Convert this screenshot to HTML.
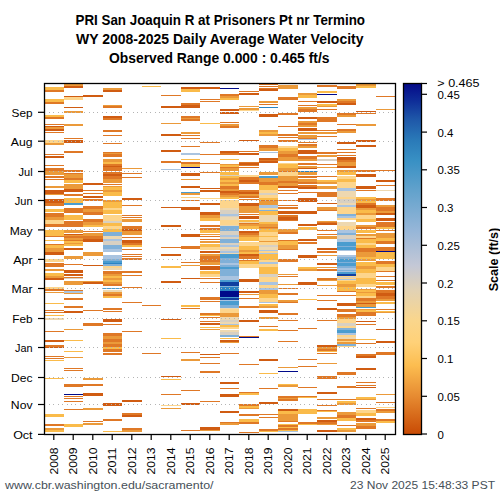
<!DOCTYPE html>
<html><head><meta charset="utf-8"><style>
html,body{margin:0;padding:0;background:#fff;}
body{width:500px;height:500px;overflow:hidden;position:relative;}
svg{position:absolute;left:0;top:0;}
text{font-family:"Liberation Sans",sans-serif;}
</style></head><body>
<svg width="500" height="500" viewBox="0 0 500 500">
<defs><linearGradient id="cb" x1="0" y1="0" x2="0" y2="1"><stop offset="0.000" stop-color="#050a88"/><stop offset="0.048" stop-color="#0e2c98"/><stop offset="0.100" stop-color="#1e56a8"/><stop offset="0.162" stop-color="#2a7ab8"/><stop offset="0.219" stop-color="#3890c4"/><stop offset="0.305" stop-color="#62a2cc"/><stop offset="0.419" stop-color="#96b6d8"/><stop offset="0.519" stop-color="#c4c8d6"/><stop offset="0.590" stop-color="#e2d2b4"/><stop offset="0.675" stop-color="#fad68c"/><stop offset="0.738" stop-color="#ffd178"/><stop offset="0.803" stop-color="#fcbd50"/><stop offset="0.889" stop-color="#e78c32"/><stop offset="1.000" stop-color="#c84a04"/></linearGradient></defs>
<g font-weight="bold" font-size="14.3" fill="#000" lengthAdjust="spacingAndGlyphs">
<text x="75.5" y="25" textLength="289.5" lengthAdjust="spacingAndGlyphs">PRI San Joaquin R at Prisoners Pt nr Termino</text>
<text x="76" y="43.8" textLength="287.5" lengthAdjust="spacingAndGlyphs">WY 2008-2025 Daily Average Water Velocity</text>
<text x="109" y="62.6" textLength="220.5" lengthAdjust="spacingAndGlyphs">Observed Range 0.000 : 0.465 ft/s</text>
</g>
<g shape-rendering="crispEdges">
<rect x="44.0" y="87" width="19.5" height="3" fill="#fabb4a"/><rect x="44.0" y="90" width="19.5" height="2" fill="#df7826"/><rect x="44.0" y="99" width="19.5" height="3" fill="#fabb4a"/><rect x="44.0" y="102" width="19.5" height="2" fill="#df7826"/><rect x="44.0" y="115" width="19.5" height="2" fill="#fabb4a"/><rect x="44.0" y="117" width="19.5" height="2" fill="#df7826"/><rect x="44.0" y="124" width="19.5" height="1" fill="#df7826"/><rect x="44.0" y="126" width="19.5" height="1" fill="#d05c12"/><rect x="44.0" y="127" width="19.5" height="2" fill="#eb9a3a"/><rect x="44.0" y="129" width="19.5" height="2" fill="#d05c12"/><rect x="44.0" y="132" width="19.5" height="1" fill="#df7826"/><rect x="44.0" y="140" width="19.5" height="3" fill="#fdd58c"/><rect x="44.0" y="143" width="19.5" height="2" fill="#eb9a3a"/><rect x="44.0" y="154" width="19.5" height="1" fill="#df7826"/><rect x="44.0" y="156" width="19.5" height="2" fill="#d05c12"/><rect x="44.0" y="165" width="19.5" height="1" fill="#df7826"/><rect x="44.0" y="168" width="19.5" height="3" fill="#df7826"/><rect x="44.0" y="171" width="19.5" height="4" fill="#eb9a3a"/><rect x="44.0" y="176" width="19.5" height="2" fill="#df7826"/><rect x="44.0" y="179" width="19.5" height="1" fill="#df7826"/><rect x="44.0" y="186" width="19.5" height="2" fill="#eb9a3a"/><rect x="44.0" y="190" width="19.5" height="4" fill="#d05c12"/><rect x="44.0" y="194" width="19.5" height="1" fill="#eb9a3a"/><rect x="44.0" y="199" width="19.5" height="4" fill="#d05c12"/><rect x="44.0" y="203" width="19.5" height="3" fill="#df7826"/><rect x="44.0" y="209" width="19.5" height="3" fill="#fabb4a"/><rect x="44.0" y="213" width="19.5" height="4" fill="#df7826"/><rect x="44.0" y="217" width="19.5" height="3" fill="#eb9a3a"/><rect x="44.0" y="220" width="19.5" height="4" fill="#fdd58c"/><rect x="44.0" y="224" width="19.5" height="3" fill="#df7826"/><rect x="44.0" y="230" width="19.5" height="6" fill="#fabb4a"/><rect x="44.0" y="236" width="19.5" height="1" fill="#df7826"/><rect x="44.0" y="240" width="19.5" height="1" fill="#fabb4a"/><rect x="44.0" y="244" width="19.5" height="1" fill="#df7826"/><rect x="44.0" y="245" width="19.5" height="3" fill="#fabb4a"/><rect x="44.0" y="248" width="19.5" height="3" fill="#eb9a3a"/><rect x="44.0" y="251" width="19.5" height="1" fill="#eb9a3a"/><rect x="44.0" y="252" width="19.5" height="3" fill="#d05c12"/><rect x="44.0" y="259" width="19.5" height="3" fill="#fdd58c"/><rect x="44.0" y="263" width="19.5" height="4" fill="#df7826"/><rect x="44.0" y="269" width="19.5" height="2" fill="#eb9a3a"/><rect x="44.0" y="273" width="19.5" height="3" fill="#fabb4a"/><rect x="44.0" y="276" width="19.5" height="2" fill="#eb9a3a"/><rect x="44.0" y="278" width="19.5" height="2" fill="#d05c12"/><rect x="44.0" y="287" width="19.5" height="2" fill="#fdd58c"/><rect x="44.0" y="289" width="19.5" height="2" fill="#df7826"/><rect x="44.0" y="292" width="19.5" height="1" fill="#eb9a3a"/><rect x="44.0" y="303" width="19.5" height="1" fill="#fabb4a"/><rect x="44.0" y="310" width="19.5" height="1" fill="#df7826"/><rect x="44.0" y="312" width="19.5" height="1" fill="#df7826"/><rect x="44.0" y="315" width="19.5" height="1" fill="#fabb4a"/><rect x="44.0" y="318" width="19.5" height="2" fill="#eed8b0"/><rect x="44.0" y="331" width="19.5" height="1" fill="#df7826"/><rect x="44.0" y="340" width="19.5" height="2" fill="#d05c12"/><rect x="44.0" y="345" width="19.5" height="2" fill="#df7826"/><rect x="44.0" y="347" width="19.5" height="1" fill="#d05c12"/><rect x="44.0" y="356" width="19.5" height="1" fill="#df7826"/><rect x="44.0" y="358" width="19.5" height="1" fill="#df7826"/><rect x="44.0" y="360" width="19.5" height="1" fill="#fabb4a"/><rect x="44.0" y="378" width="19.5" height="1" fill="#fabb4a"/><rect x="44.0" y="414" width="19.5" height="3" fill="#fabb4a"/><rect x="44.0" y="424" width="19.5" height="2" fill="#df7826"/><rect x="44.0" y="428" width="19.5" height="2" fill="#eb9a3a"/><rect x="44.0" y="430" width="19.5" height="2" fill="#fabb4a"/><rect x="63.5" y="84" width="19.5" height="2" fill="#eb9a3a"/><rect x="63.5" y="86" width="19.5" height="2" fill="#d05c12"/><rect x="63.5" y="96" width="19.5" height="1" fill="#d05c12"/><rect x="63.5" y="97" width="19.5" height="3" fill="#fdd58c"/><rect x="63.5" y="107" width="19.5" height="1" fill="#d05c12"/><rect x="63.5" y="111" width="19.5" height="2" fill="#eb9a3a"/><rect x="63.5" y="124" width="19.5" height="2" fill="#eb9a3a"/><rect x="63.5" y="138" width="19.5" height="1" fill="#df7826"/><rect x="63.5" y="140" width="19.5" height="3" fill="#d05c12"/><rect x="63.5" y="151" width="19.5" height="2" fill="#df7826"/><rect x="63.5" y="170" width="19.5" height="2" fill="#df7826"/><rect x="63.5" y="173" width="19.5" height="1" fill="#df7826"/><rect x="63.5" y="174" width="19.5" height="4" fill="#eb9a3a"/><rect x="63.5" y="178" width="19.5" height="2" fill="#df7826"/><rect x="63.5" y="180" width="19.5" height="3" fill="#fabb4a"/><rect x="63.5" y="184" width="19.5" height="5" fill="#eb9a3a"/><rect x="63.5" y="189" width="19.5" height="3" fill="#d05c12"/><rect x="63.5" y="194" width="19.5" height="2" fill="#df7826"/><rect x="63.5" y="198" width="19.5" height="5" fill="#fabb4a"/><rect x="63.5" y="203" width="19.5" height="2" fill="#4a9ccf"/><rect x="63.5" y="208" width="19.5" height="5" fill="#df7826"/><rect x="63.5" y="215" width="19.5" height="5" fill="#fabb4a"/><rect x="63.5" y="221" width="19.5" height="1" fill="#df7826"/><rect x="63.5" y="222" width="19.5" height="5" fill="#df7826"/><rect x="63.5" y="230" width="19.5" height="3" fill="#eb9a3a"/><rect x="63.5" y="234" width="19.5" height="1" fill="#d05c12"/><rect x="63.5" y="235" width="19.5" height="1" fill="#eb9a3a"/><rect x="63.5" y="236" width="19.5" height="2" fill="#df7826"/><rect x="63.5" y="238" width="19.5" height="2" fill="#eb9a3a"/><rect x="63.5" y="240" width="19.5" height="1" fill="#df7826"/><rect x="63.5" y="241" width="19.5" height="2" fill="#fabb4a"/><rect x="63.5" y="243" width="19.5" height="1" fill="#eb9a3a"/><rect x="63.5" y="244" width="19.5" height="2" fill="#fabb4a"/><rect x="63.5" y="248" width="19.5" height="2" fill="#d05c12"/><rect x="63.5" y="256" width="19.5" height="3" fill="#eb9a3a"/><rect x="63.5" y="264" width="19.5" height="1" fill="#df7826"/><rect x="63.5" y="270" width="19.5" height="3" fill="#d05c12"/><rect x="63.5" y="274" width="19.5" height="2" fill="#d05c12"/><rect x="63.5" y="277" width="19.5" height="1" fill="#df7826"/><rect x="63.5" y="278" width="19.5" height="1" fill="#d8d0c2"/><rect x="63.5" y="281" width="19.5" height="4" fill="#eb9a3a"/><rect x="63.5" y="290" width="19.5" height="1" fill="#df7826"/><rect x="63.5" y="291" width="19.5" height="2" fill="#aac4e0"/><rect x="63.5" y="293" width="19.5" height="1" fill="#eb9a3a"/><rect x="63.5" y="298" width="19.5" height="2" fill="#df7826"/><rect x="63.5" y="306" width="19.5" height="2" fill="#df7826"/><rect x="63.5" y="311" width="19.5" height="2" fill="#d05c12"/><rect x="63.5" y="329" width="19.5" height="1" fill="#eb9a3a"/><rect x="63.5" y="340" width="19.5" height="1" fill="#fabb4a"/><rect x="63.5" y="351" width="19.5" height="1" fill="#fabb4a"/><rect x="63.5" y="357" width="19.5" height="1" fill="#eb9a3a"/><rect x="63.5" y="368" width="19.5" height="1" fill="#df7826"/><rect x="63.5" y="370" width="19.5" height="1" fill="#df7826"/><rect x="63.5" y="384" width="19.5" height="3" fill="#df7826"/><rect x="63.5" y="394" width="19.5" height="1" fill="#000a8a"/><rect x="63.5" y="396" width="19.5" height="1" fill="#df7826"/><rect x="63.5" y="398" width="19.5" height="1" fill="#df7826"/><rect x="63.5" y="401" width="19.5" height="1" fill="#df7826"/><rect x="63.5" y="409" width="19.5" height="1" fill="#df7826"/><rect x="63.5" y="424" width="19.5" height="3" fill="#fabb4a"/><rect x="83.0" y="95" width="19.5" height="2" fill="#d05c12"/><rect x="83.0" y="183" width="19.5" height="2" fill="#d05c12"/><rect x="83.0" y="190" width="19.5" height="1" fill="#df7826"/><rect x="83.0" y="193" width="19.5" height="1" fill="#df7826"/><rect x="83.0" y="196" width="19.5" height="2" fill="#d05c12"/><rect x="83.0" y="199" width="19.5" height="2" fill="#df7826"/><rect x="83.0" y="206" width="19.5" height="3" fill="#df7826"/><rect x="83.0" y="209" width="19.5" height="3" fill="#eb9a3a"/><rect x="83.0" y="212" width="19.5" height="3" fill="#df7826"/><rect x="83.0" y="219" width="19.5" height="3" fill="#df7826"/><rect x="83.0" y="222" width="19.5" height="3" fill="#eb9a3a"/><rect x="83.0" y="225" width="19.5" height="2" fill="#fabb4a"/><rect x="83.0" y="231" width="19.5" height="1" fill="#df7826"/><rect x="83.0" y="233" width="19.5" height="3" fill="#eb9a3a"/><rect x="83.0" y="236" width="19.5" height="3" fill="#df7826"/><rect x="83.0" y="239" width="19.5" height="3" fill="#d05c12"/><rect x="83.0" y="252" width="19.5" height="4" fill="#eb9a3a"/><rect x="83.0" y="265" width="19.5" height="1" fill="#d05c12"/><rect x="83.0" y="281" width="19.5" height="1" fill="#eb9a3a"/><rect x="83.0" y="282" width="19.5" height="2" fill="#d05c12"/><rect x="83.0" y="310" width="19.5" height="1" fill="#df7826"/><rect x="83.0" y="323" width="19.5" height="3" fill="#df7826"/><rect x="83.0" y="378" width="19.5" height="2" fill="#eb9a3a"/><rect x="83.0" y="384" width="19.5" height="2" fill="#df7826"/><rect x="83.0" y="393" width="19.5" height="3" fill="#d05c12"/><rect x="83.0" y="408" width="19.5" height="2" fill="#eb9a3a"/><rect x="83.0" y="421" width="19.5" height="1" fill="#df7826"/><rect x="83.0" y="423" width="19.5" height="2" fill="#eb9a3a"/><rect x="102.5" y="88" width="19.5" height="2" fill="#eb9a3a"/><rect x="102.5" y="90" width="19.5" height="2" fill="#d05c12"/><rect x="102.5" y="105" width="19.5" height="1" fill="#eb9a3a"/><rect x="102.5" y="106" width="19.5" height="2" fill="#df7826"/><rect x="102.5" y="116" width="19.5" height="2" fill="#d05c12"/><rect x="102.5" y="118" width="19.5" height="2" fill="#df7826"/><rect x="102.5" y="130" width="19.5" height="2" fill="#df7826"/><rect x="102.5" y="135" width="19.5" height="1" fill="#df7826"/><rect x="102.5" y="143" width="19.5" height="1" fill="#df7826"/><rect x="102.5" y="152" width="19.5" height="1" fill="#df7826"/><rect x="102.5" y="153" width="19.5" height="1" fill="#eb9a3a"/><rect x="102.5" y="154" width="19.5" height="1" fill="#df7826"/><rect x="102.5" y="155" width="19.5" height="2" fill="#df7826"/><rect x="102.5" y="159" width="19.5" height="3" fill="#eb9a3a"/><rect x="102.5" y="162" width="19.5" height="2" fill="#fabb4a"/><rect x="102.5" y="164" width="19.5" height="2" fill="#df7826"/><rect x="102.5" y="166" width="19.5" height="1" fill="#d05c12"/><rect x="102.5" y="167" width="19.5" height="4" fill="#df7826"/><rect x="102.5" y="172" width="19.5" height="2" fill="#df7826"/><rect x="102.5" y="174" width="19.5" height="2" fill="#d05c12"/><rect x="102.5" y="176" width="19.5" height="3" fill="#df7826"/><rect x="102.5" y="179" width="19.5" height="4" fill="#eb9a3a"/><rect x="102.5" y="184" width="19.5" height="1" fill="#df7826"/><rect x="102.5" y="186" width="19.5" height="1" fill="#eb9a3a"/><rect x="102.5" y="187" width="19.5" height="3" fill="#fabb4a"/><rect x="102.5" y="190" width="19.5" height="2" fill="#eb9a3a"/><rect x="102.5" y="192" width="19.5" height="4" fill="#fabb4a"/><rect x="102.5" y="200" width="19.5" height="2" fill="#eb9a3a"/><rect x="102.5" y="202" width="19.5" height="2" fill="#fabb4a"/><rect x="102.5" y="204" width="19.5" height="4" fill="#fabb4a"/><rect x="102.5" y="208" width="19.5" height="2" fill="#fdd58c"/><rect x="102.5" y="210" width="19.5" height="4" fill="#fabb4a"/><rect x="102.5" y="215" width="19.5" height="6" fill="#fdd58c"/><rect x="102.5" y="221" width="19.5" height="2" fill="#d8d0c2"/><rect x="102.5" y="223" width="19.5" height="3" fill="#fabb4a"/><rect x="102.5" y="226" width="19.5" height="3" fill="#fdd58c"/><rect x="102.5" y="229" width="19.5" height="3" fill="#fabb4a"/><rect x="102.5" y="232" width="19.5" height="4" fill="#80b0d8"/><rect x="102.5" y="236" width="19.5" height="3" fill="#eed8b0"/><rect x="102.5" y="239" width="19.5" height="2" fill="#aac4e0"/><rect x="102.5" y="241" width="19.5" height="4" fill="#d8d0c2"/><rect x="102.5" y="245" width="19.5" height="4" fill="#80b0d8"/><rect x="102.5" y="249" width="19.5" height="3" fill="#aac4e0"/><rect x="102.5" y="255" width="19.5" height="4" fill="#aac4e0"/><rect x="102.5" y="259" width="19.5" height="2" fill="#80b0d8"/><rect x="102.5" y="261" width="19.5" height="2" fill="#4a9ccf"/><rect x="102.5" y="263" width="19.5" height="1" fill="#2a84c4"/><rect x="102.5" y="264" width="19.5" height="2" fill="#80b0d8"/><rect x="102.5" y="266" width="19.5" height="2" fill="#fdd58c"/><rect x="102.5" y="268" width="19.5" height="2" fill="#eed8b0"/><rect x="102.5" y="271" width="19.5" height="3" fill="#df7826"/><rect x="102.5" y="274" width="19.5" height="2" fill="#eb9a3a"/><rect x="102.5" y="276" width="19.5" height="2" fill="#fabb4a"/><rect x="102.5" y="278" width="19.5" height="2" fill="#eb9a3a"/><rect x="102.5" y="280" width="19.5" height="2" fill="#fabb4a"/><rect x="102.5" y="282" width="19.5" height="2" fill="#eb9a3a"/><rect x="102.5" y="284" width="19.5" height="2" fill="#df7826"/><rect x="102.5" y="288" width="19.5" height="1" fill="#4a9ccf"/><rect x="102.5" y="290" width="19.5" height="2" fill="#eed8b0"/><rect x="102.5" y="292" width="19.5" height="2" fill="#eb9a3a"/><rect x="102.5" y="294" width="19.5" height="2" fill="#df7826"/><rect x="102.5" y="296" width="19.5" height="2" fill="#fabb4a"/><rect x="102.5" y="308" width="19.5" height="2" fill="#df7826"/><rect x="102.5" y="311" width="19.5" height="1" fill="#df7826"/><rect x="102.5" y="319" width="19.5" height="3" fill="#d05c12"/><rect x="102.5" y="324" width="19.5" height="1" fill="#df7826"/><rect x="102.5" y="333" width="19.5" height="3" fill="#df7826"/><rect x="102.5" y="336" width="19.5" height="3" fill="#eb9a3a"/><rect x="102.5" y="339" width="19.5" height="3" fill="#df7826"/><rect x="102.5" y="342" width="19.5" height="2" fill="#eb9a3a"/><rect x="102.5" y="344" width="19.5" height="3" fill="#df7826"/><rect x="102.5" y="347" width="19.5" height="2" fill="#fabb4a"/><rect x="102.5" y="349" width="19.5" height="3" fill="#df7826"/><rect x="102.5" y="353" width="19.5" height="2" fill="#df7826"/><rect x="102.5" y="403" width="19.5" height="3" fill="#d05c12"/><rect x="102.5" y="419" width="19.5" height="2" fill="#df7826"/><rect x="102.5" y="431" width="19.5" height="1" fill="#fabb4a"/><rect x="122.0" y="168" width="19.5" height="1" fill="#eb9a3a"/><rect x="122.0" y="173" width="19.5" height="1" fill="#df7826"/><rect x="122.0" y="177" width="19.5" height="1" fill="#df7826"/><rect x="122.0" y="198" width="19.5" height="2" fill="#d05c12"/><rect x="122.0" y="205" width="19.5" height="1" fill="#df7826"/><rect x="122.0" y="215" width="19.5" height="1" fill="#df7826"/><rect x="122.0" y="217" width="19.5" height="1" fill="#df7826"/><rect x="122.0" y="219" width="19.5" height="3" fill="#eb9a3a"/><rect x="122.0" y="226" width="19.5" height="3" fill="#df7826"/><rect x="122.0" y="229" width="19.5" height="2" fill="#d05c12"/><rect x="122.0" y="231" width="19.5" height="4" fill="#eb9a3a"/><rect x="122.0" y="237" width="19.5" height="1" fill="#df7826"/><rect x="122.0" y="240" width="19.5" height="3" fill="#d05c12"/><rect x="122.0" y="243" width="19.5" height="2" fill="#df7826"/><rect x="122.0" y="245" width="19.5" height="2" fill="#fabb4a"/><rect x="122.0" y="249" width="19.5" height="1" fill="#df7826"/><rect x="122.0" y="254" width="19.5" height="1" fill="#df7826"/><rect x="122.0" y="256" width="19.5" height="1" fill="#df7826"/><rect x="122.0" y="258" width="19.5" height="2" fill="#df7826"/><rect x="122.0" y="271" width="19.5" height="2" fill="#df7826"/><rect x="122.0" y="275" width="19.5" height="1" fill="#df7826"/><rect x="122.0" y="287" width="19.5" height="1" fill="#df7826"/><rect x="122.0" y="302" width="19.5" height="1" fill="#df7826"/><rect x="122.0" y="331" width="19.5" height="1" fill="#df7826"/><rect x="122.0" y="400" width="19.5" height="2" fill="#d05c12"/><rect x="122.0" y="413" width="19.5" height="2" fill="#df7826"/><rect x="122.0" y="415" width="19.5" height="2" fill="#d05c12"/><rect x="122.0" y="428" width="19.5" height="2" fill="#df7826"/><rect x="122.0" y="430" width="19.5" height="2" fill="#eb9a3a"/><rect x="141.5" y="86" width="19.5" height="1" fill="#fabb4a"/><rect x="141.5" y="305" width="19.5" height="1" fill="#df7826"/><rect x="141.5" y="353" width="19.5" height="1" fill="#df7826"/><rect x="161.0" y="95" width="19.5" height="1" fill="#df7826"/><rect x="161.0" y="106" width="19.5" height="2" fill="#d05c12"/><rect x="161.0" y="123" width="19.5" height="1" fill="#eb9a3a"/><rect x="161.0" y="134" width="19.5" height="2" fill="#d05c12"/><rect x="161.0" y="150" width="19.5" height="2" fill="#d05c12"/><rect x="161.0" y="161" width="19.5" height="2" fill="#df7826"/><rect x="161.0" y="169" width="19.5" height="1" fill="#aac4e0"/><rect x="161.0" y="207" width="19.5" height="1" fill="#d05c12"/><rect x="161.0" y="225" width="19.5" height="2" fill="#d05c12"/><rect x="161.0" y="247" width="19.5" height="1" fill="#df7826"/><rect x="161.0" y="254" width="19.5" height="2" fill="#d05c12"/><rect x="161.0" y="266" width="19.5" height="2" fill="#fabb4a"/><rect x="161.0" y="281" width="19.5" height="2" fill="#d05c12"/><rect x="161.0" y="319" width="19.5" height="1" fill="#d05c12"/><rect x="161.0" y="338" width="19.5" height="1" fill="#fabb4a"/><rect x="161.0" y="376" width="19.5" height="1" fill="#d05c12"/><rect x="161.0" y="379" width="19.5" height="1" fill="#fabb4a"/><rect x="161.0" y="394" width="19.5" height="1" fill="#df7826"/><rect x="161.0" y="405" width="19.5" height="1" fill="#fdd58c"/><rect x="161.0" y="408" width="19.5" height="1" fill="#eb9a3a"/><rect x="180.5" y="87" width="19.5" height="2" fill="#d05c12"/><rect x="180.5" y="89" width="19.5" height="3" fill="#fabb4a"/><rect x="180.5" y="103" width="19.5" height="2" fill="#df7826"/><rect x="180.5" y="105" width="19.5" height="3" fill="#d05c12"/><rect x="180.5" y="116" width="19.5" height="2" fill="#df7826"/><rect x="180.5" y="118" width="19.5" height="1" fill="#eb9a3a"/><rect x="180.5" y="119" width="19.5" height="2" fill="#df7826"/><rect x="180.5" y="132" width="19.5" height="2" fill="#eb9a3a"/><rect x="180.5" y="135" width="19.5" height="1" fill="#df7826"/><rect x="180.5" y="138" width="19.5" height="1" fill="#df7826"/><rect x="180.5" y="146" width="19.5" height="1" fill="#df7826"/><rect x="180.5" y="153" width="19.5" height="2" fill="#aac4e0"/><rect x="180.5" y="159" width="19.5" height="1" fill="#fabb4a"/><rect x="180.5" y="162" width="19.5" height="2" fill="#df7826"/><rect x="180.5" y="164" width="19.5" height="2" fill="#fabb4a"/><rect x="180.5" y="166" width="19.5" height="1" fill="#fabb4a"/><rect x="180.5" y="167" width="19.5" height="1" fill="#000a8a"/><rect x="180.5" y="173" width="19.5" height="3" fill="#d05c12"/><rect x="180.5" y="179" width="19.5" height="1" fill="#eb9a3a"/><rect x="180.5" y="186" width="19.5" height="2" fill="#d05c12"/><rect x="180.5" y="192" width="19.5" height="1" fill="#4a9ccf"/><rect x="180.5" y="193" width="19.5" height="2" fill="#eb9a3a"/><rect x="180.5" y="197" width="19.5" height="1" fill="#fdd58c"/><rect x="180.5" y="200" width="19.5" height="1" fill="#df7826"/><rect x="180.5" y="207" width="19.5" height="3" fill="#d05c12"/><rect x="180.5" y="234" width="19.5" height="3" fill="#d05c12"/><rect x="180.5" y="246" width="19.5" height="3" fill="#df7826"/><rect x="180.5" y="262" width="19.5" height="1" fill="#df7826"/><rect x="180.5" y="265" width="19.5" height="1" fill="#eb9a3a"/><rect x="180.5" y="278" width="19.5" height="1" fill="#d05c12"/><rect x="180.5" y="305" width="19.5" height="2" fill="#fabb4a"/><rect x="180.5" y="308" width="19.5" height="1" fill="#df7826"/><rect x="180.5" y="352" width="19.5" height="1" fill="#df7826"/><rect x="180.5" y="359" width="19.5" height="2" fill="#eb9a3a"/><rect x="180.5" y="390" width="19.5" height="1" fill="#df7826"/><rect x="180.5" y="403" width="19.5" height="2" fill="#d05c12"/><rect x="180.5" y="430" width="19.5" height="1" fill="#df7826"/><rect x="200.0" y="87" width="19.5" height="2" fill="#d05c12"/><rect x="200.0" y="99" width="19.5" height="1" fill="#df7826"/><rect x="200.0" y="101" width="19.5" height="1" fill="#df7826"/><rect x="200.0" y="123" width="19.5" height="1" fill="#fabb4a"/><rect x="200.0" y="142" width="19.5" height="1" fill="#df7826"/><rect x="200.0" y="154" width="19.5" height="1" fill="#df7826"/><rect x="200.0" y="163" width="19.5" height="1" fill="#df7826"/><rect x="200.0" y="172" width="19.5" height="1" fill="#df7826"/><rect x="200.0" y="188" width="19.5" height="1" fill="#d05c12"/><rect x="200.0" y="190" width="19.5" height="2" fill="#d05c12"/><rect x="200.0" y="198" width="19.5" height="1" fill="#fdd58c"/><rect x="200.0" y="203" width="19.5" height="2" fill="#d05c12"/><rect x="200.0" y="212" width="19.5" height="3" fill="#d05c12"/><rect x="200.0" y="215" width="19.5" height="3" fill="#eb9a3a"/><rect x="200.0" y="218" width="19.5" height="3" fill="#fabb4a"/><rect x="200.0" y="225" width="19.5" height="2" fill="#df7826"/><rect x="200.0" y="228" width="19.5" height="2" fill="#df7826"/><rect x="200.0" y="230" width="19.5" height="3" fill="#fabb4a"/><rect x="200.0" y="234" width="19.5" height="1" fill="#eb9a3a"/><rect x="200.0" y="236" width="19.5" height="1" fill="#df7826"/><rect x="200.0" y="239" width="19.5" height="1" fill="#df7826"/><rect x="200.0" y="241" width="19.5" height="2" fill="#eb9a3a"/><rect x="200.0" y="244" width="19.5" height="3" fill="#fabb4a"/><rect x="200.0" y="247" width="19.5" height="3" fill="#fdd58c"/><rect x="200.0" y="251" width="19.5" height="2" fill="#d05c12"/><rect x="200.0" y="254" width="19.5" height="2" fill="#eb9a3a"/><rect x="200.0" y="256" width="19.5" height="3" fill="#df7826"/><rect x="200.0" y="259" width="19.5" height="3" fill="#df7826"/><rect x="200.0" y="262" width="19.5" height="3" fill="#eb9a3a"/><rect x="200.0" y="266" width="19.5" height="4" fill="#d05c12"/><rect x="200.0" y="271" width="19.5" height="3" fill="#fabb4a"/><rect x="200.0" y="274" width="19.5" height="3" fill="#fdd58c"/><rect x="200.0" y="278" width="19.5" height="1" fill="#df7826"/><rect x="200.0" y="282" width="19.5" height="1" fill="#df7826"/><rect x="200.0" y="297" width="19.5" height="3" fill="#df7826"/><rect x="200.0" y="301" width="19.5" height="1" fill="#df7826"/><rect x="200.0" y="313" width="19.5" height="2" fill="#df7826"/><rect x="200.0" y="315" width="19.5" height="1" fill="#fabb4a"/><rect x="200.0" y="317" width="19.5" height="1" fill="#df7826"/><rect x="200.0" y="321" width="19.5" height="1" fill="#df7826"/><rect x="200.0" y="323" width="19.5" height="2" fill="#d05c12"/><rect x="200.0" y="327" width="19.5" height="1" fill="#fabb4a"/><rect x="200.0" y="329" width="19.5" height="1" fill="#eb9a3a"/><rect x="200.0" y="354" width="19.5" height="1" fill="#d05c12"/><rect x="200.0" y="357" width="19.5" height="1" fill="#df7826"/><rect x="200.0" y="363" width="19.5" height="1" fill="#df7826"/><rect x="200.0" y="371" width="19.5" height="2" fill="#df7826"/><rect x="200.0" y="401" width="19.5" height="1" fill="#df7826"/><rect x="200.0" y="427" width="19.5" height="3" fill="#d05c12"/><rect x="200.0" y="430" width="19.5" height="1" fill="#eb9a3a"/><rect x="219.5" y="88" width="19.5" height="1" fill="#000a8a"/><rect x="219.5" y="94" width="19.5" height="2" fill="#df7826"/><rect x="219.5" y="96" width="19.5" height="2" fill="#eb9a3a"/><rect x="219.5" y="98" width="19.5" height="2" fill="#fabb4a"/><rect x="219.5" y="109" width="19.5" height="2" fill="#d05c12"/><rect x="219.5" y="112" width="19.5" height="2" fill="#d05c12"/><rect x="219.5" y="122" width="19.5" height="1" fill="#df7826"/><rect x="219.5" y="124" width="19.5" height="2" fill="#eb9a3a"/><rect x="219.5" y="126" width="19.5" height="2" fill="#df7826"/><rect x="219.5" y="151" width="19.5" height="2" fill="#d05c12"/><rect x="219.5" y="153" width="19.5" height="2" fill="#df7826"/><rect x="219.5" y="159" width="19.5" height="1" fill="#fabb4a"/><rect x="219.5" y="164" width="19.5" height="1" fill="#eb9a3a"/><rect x="219.5" y="165" width="19.5" height="2" fill="#fabb4a"/><rect x="219.5" y="167" width="19.5" height="1" fill="#df7826"/><rect x="219.5" y="168" width="19.5" height="3" fill="#eb9a3a"/><rect x="219.5" y="172" width="19.5" height="3" fill="#fabb4a"/><rect x="219.5" y="175" width="19.5" height="1" fill="#d8d0c2"/><rect x="219.5" y="176" width="19.5" height="2" fill="#fabb4a"/><rect x="219.5" y="178" width="19.5" height="2" fill="#eb9a3a"/><rect x="219.5" y="180" width="19.5" height="2" fill="#fabb4a"/><rect x="219.5" y="182" width="19.5" height="2" fill="#eb9a3a"/><rect x="219.5" y="184" width="19.5" height="2" fill="#fabb4a"/><rect x="219.5" y="186" width="19.5" height="3" fill="#df7826"/><rect x="219.5" y="189" width="19.5" height="2" fill="#eb9a3a"/><rect x="219.5" y="191" width="19.5" height="2" fill="#d05c12"/><rect x="219.5" y="193" width="19.5" height="2" fill="#df7826"/><rect x="219.5" y="195" width="19.5" height="2" fill="#eb9a3a"/><rect x="219.5" y="197" width="19.5" height="2" fill="#fabb4a"/><rect x="219.5" y="200" width="19.5" height="8" fill="#fdd58c"/><rect x="219.5" y="208" width="19.5" height="2" fill="#eed8b0"/><rect x="219.5" y="210" width="19.5" height="4" fill="#d8d0c2"/><rect x="219.5" y="214" width="19.5" height="2" fill="#aac4e0"/><rect x="219.5" y="216" width="19.5" height="1" fill="#d8d0c2"/><rect x="219.5" y="217" width="19.5" height="3" fill="#eed8b0"/><rect x="219.5" y="220" width="19.5" height="5" fill="#fdd58c"/><rect x="219.5" y="225" width="19.5" height="1" fill="#eed8b0"/><rect x="219.5" y="226" width="19.5" height="5" fill="#80b0d8"/><rect x="219.5" y="231" width="19.5" height="4" fill="#d8d0c2"/><rect x="219.5" y="235" width="19.5" height="2" fill="#aac4e0"/><rect x="219.5" y="237" width="19.5" height="2" fill="#d8d0c2"/><rect x="219.5" y="239" width="19.5" height="4" fill="#80b0d8"/><rect x="219.5" y="243" width="19.5" height="2" fill="#d8d0c2"/><rect x="219.5" y="245" width="19.5" height="2" fill="#aac4e0"/><rect x="219.5" y="247" width="19.5" height="2" fill="#eed8b0"/><rect x="219.5" y="249" width="19.5" height="2" fill="#d8d0c2"/><rect x="219.5" y="251" width="19.5" height="2" fill="#aac4e0"/><rect x="219.5" y="253" width="19.5" height="1" fill="#eed8b0"/><rect x="219.5" y="254" width="19.5" height="4" fill="#4a9ccf"/><rect x="219.5" y="258" width="19.5" height="1" fill="#80b0d8"/><rect x="219.5" y="259" width="19.5" height="4" fill="#80b0d8"/><rect x="219.5" y="263" width="19.5" height="2" fill="#aac4e0"/><rect x="219.5" y="265" width="19.5" height="2" fill="#80b0d8"/><rect x="219.5" y="267" width="19.5" height="2" fill="#4a9ccf"/><rect x="219.5" y="269" width="19.5" height="7" fill="#80b0d8"/><rect x="219.5" y="276" width="19.5" height="4" fill="#aac4e0"/><rect x="219.5" y="280" width="19.5" height="2" fill="#4a9ccf"/><rect x="219.5" y="282" width="19.5" height="4" fill="#1040a0"/><rect x="219.5" y="286" width="19.5" height="1" fill="#80b0d8"/><rect x="219.5" y="287" width="19.5" height="4" fill="#2a84c4"/><rect x="219.5" y="291" width="19.5" height="6" fill="#000a8a"/><rect x="219.5" y="297" width="19.5" height="1" fill="#4a9ccf"/><rect x="219.5" y="298" width="19.5" height="2" fill="#1040a0"/><rect x="219.5" y="300" width="19.5" height="1" fill="#aac4e0"/><rect x="219.5" y="301" width="19.5" height="4" fill="#4a9ccf"/><rect x="219.5" y="305" width="19.5" height="3" fill="#80b0d8"/><rect x="219.5" y="308" width="19.5" height="1" fill="#eed8b0"/><rect x="219.5" y="309" width="19.5" height="4" fill="#fdd58c"/><rect x="219.5" y="313" width="19.5" height="4" fill="#eb9a3a"/><rect x="219.5" y="317" width="19.5" height="3" fill="#eed8b0"/><rect x="219.5" y="320" width="19.5" height="2" fill="#d8d0c2"/><rect x="219.5" y="322" width="19.5" height="2" fill="#eed8b0"/><rect x="219.5" y="324" width="19.5" height="1" fill="#aac4e0"/><rect x="219.5" y="325" width="19.5" height="2" fill="#fabb4a"/><rect x="219.5" y="327" width="19.5" height="2" fill="#fdd58c"/><rect x="219.5" y="330" width="19.5" height="2" fill="#eed8b0"/><rect x="219.5" y="332" width="19.5" height="3" fill="#d8d0c2"/><rect x="219.5" y="335" width="19.5" height="2" fill="#80b0d8"/><rect x="219.5" y="338" width="19.5" height="1" fill="#fabb4a"/><rect x="219.5" y="340" width="19.5" height="2" fill="#d05c12"/><rect x="219.5" y="342" width="19.5" height="1" fill="#eb9a3a"/><rect x="219.5" y="353" width="19.5" height="1" fill="#df7826"/><rect x="219.5" y="382" width="19.5" height="2" fill="#d05c12"/><rect x="219.5" y="388" width="19.5" height="1" fill="#df7826"/><rect x="219.5" y="394" width="19.5" height="3" fill="#d05c12"/><rect x="219.5" y="411" width="19.5" height="2" fill="#d05c12"/><rect x="219.5" y="422" width="19.5" height="1" fill="#df7826"/><rect x="219.5" y="423" width="19.5" height="2" fill="#eb9a3a"/><rect x="239.0" y="91" width="19.5" height="1" fill="#df7826"/><rect x="239.0" y="93" width="19.5" height="2" fill="#d05c12"/><rect x="239.0" y="106" width="19.5" height="1" fill="#eb9a3a"/><rect x="239.0" y="108" width="19.5" height="2" fill="#eb9a3a"/><rect x="239.0" y="110" width="19.5" height="1" fill="#fdd58c"/><rect x="239.0" y="140" width="19.5" height="1" fill="#d05c12"/><rect x="239.0" y="151" width="19.5" height="1" fill="#df7826"/><rect x="239.0" y="153" width="19.5" height="2" fill="#d05c12"/><rect x="239.0" y="162" width="19.5" height="1" fill="#df7826"/><rect x="239.0" y="163" width="19.5" height="2" fill="#d05c12"/><rect x="239.0" y="165" width="19.5" height="1" fill="#df7826"/><rect x="239.0" y="167" width="19.5" height="1" fill="#df7826"/><rect x="239.0" y="175" width="19.5" height="2" fill="#fdd58c"/><rect x="239.0" y="177" width="19.5" height="3" fill="#df7826"/><rect x="239.0" y="180" width="19.5" height="2" fill="#d05c12"/><rect x="239.0" y="182" width="19.5" height="2" fill="#df7826"/><rect x="239.0" y="190" width="19.5" height="2" fill="#df7826"/><rect x="239.0" y="192" width="19.5" height="2" fill="#d05c12"/><rect x="239.0" y="194" width="19.5" height="2" fill="#eb9a3a"/><rect x="239.0" y="196" width="19.5" height="2" fill="#df7826"/><rect x="239.0" y="199" width="19.5" height="1" fill="#df7826"/><rect x="239.0" y="203" width="19.5" height="3" fill="#d05c12"/><rect x="239.0" y="206" width="19.5" height="3" fill="#eb9a3a"/><rect x="239.0" y="209" width="19.5" height="4" fill="#eb9a3a"/><rect x="239.0" y="214" width="19.5" height="1" fill="#df7826"/><rect x="239.0" y="216" width="19.5" height="3" fill="#d05c12"/><rect x="239.0" y="220" width="19.5" height="2" fill="#fabb4a"/><rect x="239.0" y="222" width="19.5" height="1" fill="#eed8b0"/><rect x="239.0" y="223" width="19.5" height="1" fill="#df7826"/><rect x="239.0" y="224" width="19.5" height="2" fill="#eb9a3a"/><rect x="239.0" y="226" width="19.5" height="3" fill="#fabb4a"/><rect x="239.0" y="231" width="19.5" height="2" fill="#d05c12"/><rect x="239.0" y="233" width="19.5" height="2" fill="#df7826"/><rect x="239.0" y="235" width="19.5" height="2" fill="#eb9a3a"/><rect x="239.0" y="237" width="19.5" height="4" fill="#fabb4a"/><rect x="239.0" y="242" width="19.5" height="4" fill="#fdd58c"/><rect x="239.0" y="246" width="19.5" height="4" fill="#fabb4a"/><rect x="239.0" y="250" width="19.5" height="2" fill="#eb9a3a"/><rect x="239.0" y="252" width="19.5" height="2" fill="#fabb4a"/><rect x="239.0" y="254" width="19.5" height="2" fill="#d05c12"/><rect x="239.0" y="256" width="19.5" height="3" fill="#df7826"/><rect x="239.0" y="260" width="19.5" height="1" fill="#df7826"/><rect x="239.0" y="261" width="19.5" height="3" fill="#fabb4a"/><rect x="239.0" y="264" width="19.5" height="4" fill="#fdd58c"/><rect x="239.0" y="279" width="19.5" height="3" fill="#d05c12"/><rect x="239.0" y="291" width="19.5" height="2" fill="#d05c12"/><rect x="239.0" y="294" width="19.5" height="1" fill="#eb9a3a"/><rect x="239.0" y="298" width="19.5" height="1" fill="#df7826"/><rect x="239.0" y="306" width="19.5" height="2" fill="#df7826"/><rect x="239.0" y="320" width="19.5" height="2" fill="#d05c12"/><rect x="239.0" y="336" width="19.5" height="1" fill="#df7826"/><rect x="239.0" y="337" width="19.5" height="1" fill="#000a8a"/><rect x="239.0" y="364" width="19.5" height="1" fill="#df7826"/><rect x="239.0" y="392" width="19.5" height="1" fill="#df7826"/><rect x="239.0" y="393" width="19.5" height="2" fill="#fabb4a"/><rect x="239.0" y="404" width="19.5" height="2" fill="#df7826"/><rect x="239.0" y="406" width="19.5" height="2" fill="#fabb4a"/><rect x="239.0" y="408" width="19.5" height="1" fill="#eb9a3a"/><rect x="239.0" y="414" width="19.5" height="2" fill="#df7826"/><rect x="239.0" y="419" width="19.5" height="3" fill="#fabb4a"/><rect x="239.0" y="422" width="19.5" height="2" fill="#df7826"/><rect x="239.0" y="432" width="19.5" height="1" fill="#df7826"/><rect x="258.5" y="84" width="19.5" height="1" fill="#df7826"/><rect x="258.5" y="86" width="19.5" height="1" fill="#df7826"/><rect x="258.5" y="88" width="19.5" height="1" fill="#df7826"/><rect x="258.5" y="89" width="19.5" height="2" fill="#d05c12"/><rect x="258.5" y="101" width="19.5" height="2" fill="#eb9a3a"/><rect x="258.5" y="104" width="19.5" height="1" fill="#df7826"/><rect x="258.5" y="107" width="19.5" height="1" fill="#2a84c4"/><rect x="258.5" y="114" width="19.5" height="3" fill="#d05c12"/><rect x="258.5" y="130" width="19.5" height="2" fill="#eb9a3a"/><rect x="258.5" y="132" width="19.5" height="2" fill="#fabb4a"/><rect x="258.5" y="134" width="19.5" height="2" fill="#eb9a3a"/><rect x="258.5" y="145" width="19.5" height="3" fill="#df7826"/><rect x="258.5" y="148" width="19.5" height="3" fill="#eb9a3a"/><rect x="258.5" y="152" width="19.5" height="1" fill="#aac4e0"/><rect x="258.5" y="158" width="19.5" height="2" fill="#d05c12"/><rect x="258.5" y="160" width="19.5" height="1" fill="#df7826"/><rect x="258.5" y="161" width="19.5" height="2" fill="#d05c12"/><rect x="258.5" y="172" width="19.5" height="3" fill="#eb9a3a"/><rect x="258.5" y="176" width="19.5" height="2" fill="#4a9ccf"/><rect x="258.5" y="178" width="19.5" height="4" fill="#eb9a3a"/><rect x="258.5" y="182" width="19.5" height="3" fill="#df7826"/><rect x="258.5" y="185" width="19.5" height="5" fill="#fabb4a"/><rect x="258.5" y="190" width="19.5" height="3" fill="#fdd58c"/><rect x="258.5" y="193" width="19.5" height="2" fill="#d8d0c2"/><rect x="258.5" y="195" width="19.5" height="3" fill="#fdd58c"/><rect x="258.5" y="198" width="19.5" height="2" fill="#fabb4a"/><rect x="258.5" y="200" width="19.5" height="1" fill="#df7826"/><rect x="258.5" y="201" width="19.5" height="4" fill="#eb9a3a"/><rect x="258.5" y="205" width="19.5" height="3" fill="#aac4e0"/><rect x="258.5" y="208" width="19.5" height="2" fill="#fdd58c"/><rect x="258.5" y="210" width="19.5" height="1" fill="#80b0d8"/><rect x="258.5" y="211" width="19.5" height="4" fill="#fabb4a"/><rect x="258.5" y="215" width="19.5" height="7" fill="#eed8b0"/><rect x="258.5" y="222" width="19.5" height="2" fill="#fabb4a"/><rect x="258.5" y="224" width="19.5" height="3" fill="#eb9a3a"/><rect x="258.5" y="227" width="19.5" height="1" fill="#df7826"/><rect x="258.5" y="228" width="19.5" height="1" fill="#eb9a3a"/><rect x="258.5" y="229" width="19.5" height="3" fill="#fabb4a"/><rect x="258.5" y="232" width="19.5" height="4" fill="#fdd58c"/><rect x="258.5" y="236" width="19.5" height="1" fill="#fabb4a"/><rect x="258.5" y="237" width="19.5" height="4" fill="#fdd58c"/><rect x="258.5" y="241" width="19.5" height="1" fill="#eb9a3a"/><rect x="258.5" y="242" width="19.5" height="3" fill="#fdd58c"/><rect x="258.5" y="245" width="19.5" height="2" fill="#d8d0c2"/><rect x="258.5" y="247" width="19.5" height="3" fill="#eed8b0"/><rect x="258.5" y="250" width="19.5" height="1" fill="#aac4e0"/><rect x="258.5" y="251" width="19.5" height="2" fill="#fdd58c"/><rect x="258.5" y="253" width="19.5" height="1" fill="#aac4e0"/><rect x="258.5" y="254" width="19.5" height="6" fill="#fabb4a"/><rect x="258.5" y="260" width="19.5" height="2" fill="#fdd58c"/><rect x="258.5" y="262" width="19.5" height="2" fill="#aac4e0"/><rect x="258.5" y="264" width="19.5" height="3" fill="#fdd58c"/><rect x="258.5" y="267" width="19.5" height="7" fill="#fabb4a"/><rect x="258.5" y="274" width="19.5" height="3" fill="#d8d0c2"/><rect x="258.5" y="277" width="19.5" height="5" fill="#fdd58c"/><rect x="258.5" y="282" width="19.5" height="3" fill="#aac4e0"/><rect x="258.5" y="285" width="19.5" height="3" fill="#fdd58c"/><rect x="258.5" y="288" width="19.5" height="2" fill="#aac4e0"/><rect x="258.5" y="290" width="19.5" height="4" fill="#eb9a3a"/><rect x="258.5" y="294" width="19.5" height="4" fill="#fabb4a"/><rect x="258.5" y="298" width="19.5" height="4" fill="#fdd58c"/><rect x="258.5" y="302" width="19.5" height="1" fill="#aac4e0"/><rect x="258.5" y="304" width="19.5" height="2" fill="#fabb4a"/><rect x="258.5" y="306" width="19.5" height="2" fill="#eb9a3a"/><rect x="258.5" y="310" width="19.5" height="3" fill="#d05c12"/><rect x="258.5" y="317" width="19.5" height="2" fill="#eb9a3a"/><rect x="258.5" y="326" width="19.5" height="1" fill="#df7826"/><rect x="258.5" y="329" width="19.5" height="2" fill="#fabb4a"/><rect x="258.5" y="359" width="19.5" height="2" fill="#d05c12"/><rect x="258.5" y="373" width="19.5" height="1" fill="#fabb4a"/><rect x="258.5" y="388" width="19.5" height="1" fill="#df7826"/><rect x="258.5" y="402" width="19.5" height="2" fill="#d05c12"/><rect x="258.5" y="414" width="19.5" height="1" fill="#df7826"/><rect x="258.5" y="417" width="19.5" height="1" fill="#df7826"/><rect x="258.5" y="429" width="19.5" height="2" fill="#df7826"/><rect x="258.5" y="431" width="19.5" height="1" fill="#fabb4a"/><rect x="278.0" y="85" width="19.5" height="4" fill="#eb9a3a"/><rect x="278.0" y="97" width="19.5" height="3" fill="#df7826"/><rect x="278.0" y="113" width="19.5" height="2" fill="#df7826"/><rect x="278.0" y="126" width="19.5" height="1" fill="#df7826"/><rect x="278.0" y="134" width="19.5" height="2" fill="#df7826"/><rect x="278.0" y="137" width="19.5" height="1" fill="#df7826"/><rect x="278.0" y="140" width="19.5" height="2" fill="#df7826"/><rect x="278.0" y="146" width="19.5" height="2" fill="#fdd58c"/><rect x="278.0" y="148" width="19.5" height="3" fill="#fabb4a"/><rect x="278.0" y="151" width="19.5" height="3" fill="#eb9a3a"/><rect x="278.0" y="154" width="19.5" height="3" fill="#df7826"/><rect x="278.0" y="157" width="19.5" height="4" fill="#eb9a3a"/><rect x="278.0" y="163" width="19.5" height="1" fill="#fdd58c"/><rect x="278.0" y="164" width="19.5" height="4" fill="#fabb4a"/><rect x="278.0" y="168" width="19.5" height="3" fill="#eb9a3a"/><rect x="278.0" y="171" width="19.5" height="1" fill="#df7826"/><rect x="278.0" y="172" width="19.5" height="4" fill="#fdd58c"/><rect x="278.0" y="176" width="19.5" height="5" fill="#eb9a3a"/><rect x="278.0" y="181" width="19.5" height="2" fill="#df7826"/><rect x="278.0" y="183" width="19.5" height="3" fill="#eb9a3a"/><rect x="278.0" y="186" width="19.5" height="2" fill="#d05c12"/><rect x="278.0" y="190" width="19.5" height="1" fill="#df7826"/><rect x="278.0" y="193" width="19.5" height="1" fill="#df7826"/><rect x="278.0" y="200" width="19.5" height="1" fill="#df7826"/><rect x="278.0" y="205" width="19.5" height="1" fill="#df7826"/><rect x="278.0" y="207" width="19.5" height="2" fill="#df7826"/><rect x="278.0" y="211" width="19.5" height="3" fill="#d05c12"/><rect x="278.0" y="215" width="19.5" height="2" fill="#df7826"/><rect x="278.0" y="217" width="19.5" height="3" fill="#d05c12"/><rect x="278.0" y="220" width="19.5" height="1" fill="#df7826"/><rect x="278.0" y="229" width="19.5" height="3" fill="#eb9a3a"/><rect x="278.0" y="232" width="19.5" height="2" fill="#df7826"/><rect x="278.0" y="240" width="19.5" height="1" fill="#df7826"/><rect x="278.0" y="241" width="19.5" height="4" fill="#fabb4a"/><rect x="278.0" y="245" width="19.5" height="4" fill="#eb9a3a"/><rect x="278.0" y="249" width="19.5" height="1" fill="#df7826"/><rect x="278.0" y="259" width="19.5" height="3" fill="#df7826"/><rect x="278.0" y="274" width="19.5" height="1" fill="#eb9a3a"/><rect x="278.0" y="276" width="19.5" height="1" fill="#df7826"/><rect x="278.0" y="284" width="19.5" height="1" fill="#eb9a3a"/><rect x="278.0" y="288" width="19.5" height="1" fill="#df7826"/><rect x="278.0" y="293" width="19.5" height="2" fill="#df7826"/><rect x="278.0" y="300" width="19.5" height="2" fill="#eb9a3a"/><rect x="278.0" y="302" width="19.5" height="1" fill="#df7826"/><rect x="278.0" y="313" width="19.5" height="2" fill="#df7826"/><rect x="278.0" y="320" width="19.5" height="1" fill="#df7826"/><rect x="278.0" y="330" width="19.5" height="1" fill="#df7826"/><rect x="278.0" y="341" width="19.5" height="1" fill="#df7826"/><rect x="278.0" y="367" width="19.5" height="1" fill="#eb9a3a"/><rect x="278.0" y="371" width="19.5" height="1" fill="#000a8a"/><rect x="278.0" y="384" width="19.5" height="1" fill="#fabb4a"/><rect x="278.0" y="385" width="19.5" height="2" fill="#eb9a3a"/><rect x="278.0" y="396" width="19.5" height="2" fill="#df7826"/><rect x="278.0" y="398" width="19.5" height="1" fill="#eb9a3a"/><rect x="278.0" y="399" width="19.5" height="2" fill="#df7826"/><rect x="278.0" y="409" width="19.5" height="2" fill="#d05c12"/><rect x="278.0" y="411" width="19.5" height="3" fill="#fabb4a"/><rect x="278.0" y="414" width="19.5" height="3" fill="#eb9a3a"/><rect x="278.0" y="417" width="19.5" height="4" fill="#eb9a3a"/><rect x="278.0" y="421" width="19.5" height="1" fill="#df7826"/><rect x="278.0" y="424" width="19.5" height="1" fill="#fabb4a"/><rect x="278.0" y="425" width="19.5" height="2" fill="#df7826"/><rect x="278.0" y="427" width="19.5" height="1" fill="#fabb4a"/><rect x="278.0" y="428" width="19.5" height="2" fill="#df7826"/><rect x="278.0" y="430" width="19.5" height="1" fill="#fabb4a"/><rect x="278.0" y="431" width="19.5" height="1" fill="#aac4e0"/><rect x="297.5" y="93" width="19.5" height="2" fill="#eb9a3a"/><rect x="297.5" y="95" width="19.5" height="3" fill="#fabb4a"/><rect x="297.5" y="101" width="19.5" height="1" fill="#df7826"/><rect x="297.5" y="105" width="19.5" height="1" fill="#df7826"/><rect x="297.5" y="107" width="19.5" height="2" fill="#eb9a3a"/><rect x="297.5" y="109" width="19.5" height="3" fill="#df7826"/><rect x="297.5" y="117" width="19.5" height="2" fill="#d05c12"/><rect x="297.5" y="121" width="19.5" height="2" fill="#eb9a3a"/><rect x="297.5" y="123" width="19.5" height="2" fill="#df7826"/><rect x="297.5" y="125" width="19.5" height="2" fill="#eb9a3a"/><rect x="297.5" y="128" width="19.5" height="3" fill="#d05c12"/><rect x="297.5" y="132" width="19.5" height="2" fill="#eb9a3a"/><rect x="297.5" y="135" width="19.5" height="3" fill="#eb9a3a"/><rect x="297.5" y="138" width="19.5" height="1" fill="#df7826"/><rect x="297.5" y="139" width="19.5" height="1" fill="#aac4e0"/><rect x="297.5" y="142" width="19.5" height="1" fill="#df7826"/><rect x="297.5" y="144" width="19.5" height="2" fill="#df7826"/><rect x="297.5" y="146" width="19.5" height="2" fill="#eb9a3a"/><rect x="297.5" y="150" width="19.5" height="4" fill="#d05c12"/><rect x="297.5" y="156" width="19.5" height="3" fill="#df7826"/><rect x="297.5" y="159" width="19.5" height="2" fill="#eb9a3a"/><rect x="297.5" y="163" width="19.5" height="2" fill="#df7826"/><rect x="297.5" y="166" width="19.5" height="2" fill="#eb9a3a"/><rect x="297.5" y="168" width="19.5" height="1" fill="#d05c12"/><rect x="297.5" y="171" width="19.5" height="1" fill="#2a84c4"/><rect x="297.5" y="172" width="19.5" height="3" fill="#eb9a3a"/><rect x="297.5" y="176" width="19.5" height="2" fill="#df7826"/><rect x="297.5" y="179" width="19.5" height="3" fill="#eb9a3a"/><rect x="297.5" y="182" width="19.5" height="2" fill="#df7826"/><rect x="297.5" y="185" width="19.5" height="2" fill="#df7826"/><rect x="297.5" y="187" width="19.5" height="2" fill="#d05c12"/><rect x="297.5" y="192" width="19.5" height="1" fill="#df7826"/><rect x="297.5" y="198" width="19.5" height="4" fill="#d05c12"/><rect x="297.5" y="211" width="19.5" height="3" fill="#d05c12"/><rect x="297.5" y="224" width="19.5" height="2" fill="#d05c12"/><rect x="297.5" y="227" width="19.5" height="3" fill="#fabb4a"/><rect x="297.5" y="239" width="19.5" height="2" fill="#d05c12"/><rect x="297.5" y="242" width="19.5" height="2" fill="#df7826"/><rect x="297.5" y="255" width="19.5" height="3" fill="#d05c12"/><rect x="297.5" y="267" width="19.5" height="2" fill="#fabb4a"/><rect x="297.5" y="269" width="19.5" height="2" fill="#eb9a3a"/><rect x="297.5" y="282" width="19.5" height="3" fill="#d05c12"/><rect x="297.5" y="299" width="19.5" height="1" fill="#fabb4a"/><rect x="297.5" y="328" width="19.5" height="1" fill="#df7826"/><rect x="297.5" y="359" width="19.5" height="1" fill="#df7826"/><rect x="297.5" y="366" width="19.5" height="1" fill="#df7826"/><rect x="297.5" y="387" width="19.5" height="1" fill="#df7826"/><rect x="297.5" y="396" width="19.5" height="1" fill="#df7826"/><rect x="297.5" y="397" width="19.5" height="1" fill="#fabb4a"/><rect x="297.5" y="409" width="19.5" height="5" fill="#fabb4a"/><rect x="297.5" y="422" width="19.5" height="2" fill="#df7826"/><rect x="297.5" y="424" width="19.5" height="1" fill="#fabb4a"/><rect x="317.0" y="85" width="19.5" height="2" fill="#df7826"/><rect x="317.0" y="91" width="19.5" height="2" fill="#fabb4a"/><rect x="317.0" y="94" width="19.5" height="1" fill="#000a8a"/><rect x="317.0" y="101" width="19.5" height="2" fill="#d05c12"/><rect x="317.0" y="104" width="19.5" height="2" fill="#fabb4a"/><rect x="317.0" y="106" width="19.5" height="1" fill="#eb9a3a"/><rect x="317.0" y="109" width="19.5" height="1" fill="#df7826"/><rect x="317.0" y="117" width="19.5" height="5" fill="#df7826"/><rect x="317.0" y="130" width="19.5" height="1" fill="#df7826"/><rect x="317.0" y="132" width="19.5" height="2" fill="#eb9a3a"/><rect x="317.0" y="136" width="19.5" height="1" fill="#df7826"/><rect x="317.0" y="152" width="19.5" height="2" fill="#df7826"/><rect x="317.0" y="155" width="19.5" height="2" fill="#eb9a3a"/><rect x="317.0" y="159" width="19.5" height="2" fill="#d8d0c2"/><rect x="317.0" y="164" width="19.5" height="1" fill="#df7826"/><rect x="317.0" y="167" width="19.5" height="1" fill="#eb9a3a"/><rect x="317.0" y="176" width="19.5" height="1" fill="#df7826"/><rect x="317.0" y="180" width="19.5" height="2" fill="#fabb4a"/><rect x="317.0" y="182" width="19.5" height="2" fill="#eb9a3a"/><rect x="317.0" y="186" width="19.5" height="3" fill="#eb9a3a"/><rect x="317.0" y="192" width="19.5" height="5" fill="#df7826"/><rect x="317.0" y="203" width="19.5" height="1" fill="#d05c12"/><rect x="317.0" y="207" width="19.5" height="3" fill="#eb9a3a"/><rect x="317.0" y="210" width="19.5" height="1" fill="#df7826"/><rect x="317.0" y="221" width="19.5" height="1" fill="#eb9a3a"/><rect x="317.0" y="222" width="19.5" height="1" fill="#df7826"/><rect x="317.0" y="223" width="19.5" height="2" fill="#d05c12"/><rect x="317.0" y="230" width="19.5" height="1" fill="#df7826"/><rect x="317.0" y="234" width="19.5" height="1" fill="#df7826"/><rect x="317.0" y="236" width="19.5" height="3" fill="#eb9a3a"/><rect x="317.0" y="248" width="19.5" height="2" fill="#d05c12"/><rect x="317.0" y="251" width="19.5" height="2" fill="#df7826"/><rect x="317.0" y="255" width="19.5" height="1" fill="#eb9a3a"/><rect x="317.0" y="263" width="19.5" height="2" fill="#d05c12"/><rect x="317.0" y="267" width="19.5" height="1" fill="#eb9a3a"/><rect x="317.0" y="269" width="19.5" height="2" fill="#df7826"/><rect x="317.0" y="278" width="19.5" height="2" fill="#df7826"/><rect x="317.0" y="280" width="19.5" height="1" fill="#eb9a3a"/><rect x="317.0" y="285" width="19.5" height="1" fill="#eb9a3a"/><rect x="317.0" y="295" width="19.5" height="1" fill="#df7826"/><rect x="317.0" y="300" width="19.5" height="1" fill="#df7826"/><rect x="317.0" y="308" width="19.5" height="2" fill="#d05c12"/><rect x="317.0" y="320" width="19.5" height="1" fill="#df7826"/><rect x="317.0" y="345" width="19.5" height="2" fill="#d05c12"/><rect x="317.0" y="347" width="19.5" height="2" fill="#eb9a3a"/><rect x="317.0" y="349" width="19.5" height="2" fill="#df7826"/><rect x="317.0" y="351" width="19.5" height="1" fill="#fabb4a"/><rect x="317.0" y="353" width="19.5" height="1" fill="#df7826"/><rect x="317.0" y="363" width="19.5" height="1" fill="#eb9a3a"/><rect x="317.0" y="376" width="19.5" height="3" fill="#df7826"/><rect x="317.0" y="392" width="19.5" height="2" fill="#d05c12"/><rect x="317.0" y="399" width="19.5" height="1" fill="#df7826"/><rect x="317.0" y="405" width="19.5" height="1" fill="#df7826"/><rect x="317.0" y="410" width="19.5" height="1" fill="#df7826"/><rect x="317.0" y="411" width="19.5" height="1" fill="#fabb4a"/><rect x="317.0" y="417" width="19.5" height="2" fill="#eb9a3a"/><rect x="317.0" y="420" width="19.5" height="2" fill="#d05c12"/><rect x="317.0" y="422" width="19.5" height="2" fill="#df7826"/><rect x="317.0" y="424" width="19.5" height="1" fill="#eb9a3a"/><rect x="317.0" y="430" width="19.5" height="2" fill="#d05c12"/><rect x="336.5" y="86" width="19.5" height="3" fill="#df7826"/><rect x="336.5" y="99" width="19.5" height="2" fill="#eb9a3a"/><rect x="336.5" y="101" width="19.5" height="2" fill="#df7826"/><rect x="336.5" y="103" width="19.5" height="2" fill="#d05c12"/><rect x="336.5" y="113" width="19.5" height="2" fill="#df7826"/><rect x="336.5" y="115" width="19.5" height="2" fill="#eb9a3a"/><rect x="336.5" y="124" width="19.5" height="1" fill="#df7826"/><rect x="336.5" y="129" width="19.5" height="2" fill="#df7826"/><rect x="336.5" y="131" width="19.5" height="2" fill="#eb9a3a"/><rect x="336.5" y="142" width="19.5" height="2" fill="#d05c12"/><rect x="336.5" y="149" width="19.5" height="1" fill="#df7826"/><rect x="336.5" y="152" width="19.5" height="1" fill="#df7826"/><rect x="336.5" y="155" width="19.5" height="1" fill="#df7826"/><rect x="336.5" y="157" width="19.5" height="3" fill="#d05c12"/><rect x="336.5" y="160" width="19.5" height="2" fill="#df7826"/><rect x="336.5" y="162" width="19.5" height="4" fill="#eb9a3a"/><rect x="336.5" y="166" width="19.5" height="2" fill="#d05c12"/><rect x="336.5" y="170" width="19.5" height="2" fill="#eb9a3a"/><rect x="336.5" y="172" width="19.5" height="3" fill="#fabb4a"/><rect x="336.5" y="176" width="19.5" height="3" fill="#fdd58c"/><rect x="336.5" y="179" width="19.5" height="3" fill="#fabb4a"/><rect x="336.5" y="182" width="19.5" height="6" fill="#fdd58c"/><rect x="336.5" y="188" width="19.5" height="3" fill="#aac4e0"/><rect x="336.5" y="191" width="19.5" height="6" fill="#eed8b0"/><rect x="336.5" y="197" width="19.5" height="2" fill="#fdd58c"/><rect x="336.5" y="199" width="19.5" height="4" fill="#d8d0c2"/><rect x="336.5" y="203" width="19.5" height="2" fill="#eed8b0"/><rect x="336.5" y="205" width="19.5" height="2" fill="#aac4e0"/><rect x="336.5" y="207" width="19.5" height="7" fill="#fdd58c"/><rect x="336.5" y="214" width="19.5" height="2" fill="#80b0d8"/><rect x="336.5" y="216" width="19.5" height="2" fill="#aac4e0"/><rect x="336.5" y="218" width="19.5" height="2" fill="#fdd58c"/><rect x="336.5" y="222" width="19.5" height="4" fill="#eed8b0"/><rect x="336.5" y="226" width="19.5" height="4" fill="#fdd58c"/><rect x="336.5" y="230" width="19.5" height="5" fill="#aac4e0"/><rect x="336.5" y="233" width="19.5" height="2" fill="#80b0d8"/><rect x="336.5" y="235" width="19.5" height="4" fill="#d8d0c2"/><rect x="336.5" y="239" width="19.5" height="3" fill="#aac4e0"/><rect x="336.5" y="242" width="19.5" height="4" fill="#4a9ccf"/><rect x="336.5" y="246" width="19.5" height="1" fill="#80b0d8"/><rect x="336.5" y="247" width="19.5" height="3" fill="#4a9ccf"/><rect x="336.5" y="250" width="19.5" height="1" fill="#aac4e0"/><rect x="336.5" y="255" width="19.5" height="2" fill="#aac4e0"/><rect x="336.5" y="257" width="19.5" height="2" fill="#80b0d8"/><rect x="336.5" y="259" width="19.5" height="3" fill="#4a9ccf"/><rect x="336.5" y="262" width="19.5" height="1" fill="#80b0d8"/><rect x="336.5" y="263" width="19.5" height="3" fill="#4a9ccf"/><rect x="336.5" y="266" width="19.5" height="2" fill="#80b0d8"/><rect x="336.5" y="268" width="19.5" height="2" fill="#aac4e0"/><rect x="336.5" y="270" width="19.5" height="1" fill="#80b0d8"/><rect x="336.5" y="271" width="19.5" height="1" fill="#aac4e0"/><rect x="336.5" y="272" width="19.5" height="2" fill="#4a9ccf"/><rect x="336.5" y="274" width="19.5" height="2" fill="#1040a0"/><rect x="336.5" y="276" width="19.5" height="1" fill="#fdd58c"/><rect x="336.5" y="277" width="19.5" height="1" fill="#d8d0c2"/><rect x="336.5" y="278" width="19.5" height="1" fill="#fdd58c"/><rect x="336.5" y="279" width="19.5" height="1" fill="#aac4e0"/><rect x="336.5" y="280" width="19.5" height="1" fill="#fdd58c"/><rect x="336.5" y="281" width="19.5" height="3" fill="#fabb4a"/><rect x="336.5" y="284" width="19.5" height="3" fill="#eb9a3a"/><rect x="336.5" y="287" width="19.5" height="4" fill="#fabb4a"/><rect x="336.5" y="291" width="19.5" height="1" fill="#df7826"/><rect x="336.5" y="295" width="19.5" height="1" fill="#df7826"/><rect x="336.5" y="303" width="19.5" height="3" fill="#d05c12"/><rect x="336.5" y="309" width="19.5" height="3" fill="#df7826"/><rect x="336.5" y="314" width="19.5" height="3" fill="#df7826"/><rect x="336.5" y="317" width="19.5" height="2" fill="#eb9a3a"/><rect x="336.5" y="319" width="19.5" height="4" fill="#fdd58c"/><rect x="336.5" y="323" width="19.5" height="3" fill="#d8d0c2"/><rect x="336.5" y="326" width="19.5" height="2" fill="#fdd58c"/><rect x="336.5" y="328" width="19.5" height="2" fill="#80b0d8"/><rect x="336.5" y="330" width="19.5" height="3" fill="#4a9ccf"/><rect x="336.5" y="333" width="19.5" height="2" fill="#aac4e0"/><rect x="336.5" y="335" width="19.5" height="2" fill="#fdd58c"/><rect x="336.5" y="337" width="19.5" height="2" fill="#eed8b0"/><rect x="336.5" y="339" width="19.5" height="2" fill="#eb9a3a"/><rect x="336.5" y="341" width="19.5" height="1" fill="#fdd58c"/><rect x="336.5" y="342" width="19.5" height="2" fill="#eb9a3a"/><rect x="336.5" y="344" width="19.5" height="2" fill="#80b0d8"/><rect x="336.5" y="346" width="19.5" height="1" fill="#fdd58c"/><rect x="336.5" y="372" width="19.5" height="3" fill="#df7826"/><rect x="336.5" y="386" width="19.5" height="2" fill="#df7826"/><rect x="336.5" y="399" width="19.5" height="1" fill="#df7826"/><rect x="336.5" y="401" width="19.5" height="2" fill="#fabb4a"/><rect x="336.5" y="403" width="19.5" height="2" fill="#eb9a3a"/><rect x="336.5" y="412" width="19.5" height="3" fill="#eb9a3a"/><rect x="336.5" y="415" width="19.5" height="3" fill="#df7826"/><rect x="336.5" y="418" width="19.5" height="3" fill="#fabb4a"/><rect x="336.5" y="425" width="19.5" height="1" fill="#df7826"/><rect x="336.5" y="428" width="19.5" height="2" fill="#fabb4a"/><rect x="336.5" y="430" width="19.5" height="2" fill="#eb9a3a"/><rect x="356.0" y="84" width="19.5" height="2" fill="#eb9a3a"/><rect x="356.0" y="86" width="19.5" height="2" fill="#fabb4a"/><rect x="356.0" y="111" width="19.5" height="1" fill="#d05c12"/><rect x="356.0" y="113" width="19.5" height="1" fill="#df7826"/><rect x="356.0" y="124" width="19.5" height="2" fill="#eb9a3a"/><rect x="356.0" y="140" width="19.5" height="2" fill="#d05c12"/><rect x="356.0" y="145" width="19.5" height="2" fill="#d05c12"/><rect x="356.0" y="170" width="19.5" height="2" fill="#df7826"/><rect x="356.0" y="174" width="19.5" height="3" fill="#d05c12"/><rect x="356.0" y="186" width="19.5" height="3" fill="#d05c12"/><rect x="356.0" y="190" width="19.5" height="1" fill="#df7826"/><rect x="356.0" y="197" width="19.5" height="2" fill="#fabb4a"/><rect x="356.0" y="199" width="19.5" height="2" fill="#eb9a3a"/><rect x="356.0" y="201" width="19.5" height="2" fill="#fabb4a"/><rect x="356.0" y="203" width="19.5" height="2" fill="#df7826"/><rect x="356.0" y="205" width="19.5" height="3" fill="#d05c12"/><rect x="356.0" y="208" width="19.5" height="2" fill="#eb9a3a"/><rect x="356.0" y="210" width="19.5" height="3" fill="#fabb4a"/><rect x="356.0" y="213" width="19.5" height="2" fill="#eb9a3a"/><rect x="356.0" y="215" width="19.5" height="4" fill="#fdd58c"/><rect x="356.0" y="219" width="19.5" height="3" fill="#fabb4a"/><rect x="356.0" y="225" width="19.5" height="2" fill="#eb9a3a"/><rect x="356.0" y="227" width="19.5" height="2" fill="#df7826"/><rect x="356.0" y="230" width="19.5" height="3" fill="#fabb4a"/><rect x="356.0" y="234" width="19.5" height="2" fill="#eb9a3a"/><rect x="356.0" y="236" width="19.5" height="2" fill="#fdd58c"/><rect x="356.0" y="238" width="19.5" height="1" fill="#df7826"/><rect x="356.0" y="239" width="19.5" height="4" fill="#fabb4a"/><rect x="356.0" y="243" width="19.5" height="2" fill="#fdd58c"/><rect x="356.0" y="245" width="19.5" height="3" fill="#fabb4a"/><rect x="356.0" y="248" width="19.5" height="4" fill="#df7826"/><rect x="356.0" y="252" width="19.5" height="3" fill="#eb9a3a"/><rect x="356.0" y="255" width="19.5" height="2" fill="#eb9a3a"/><rect x="356.0" y="257" width="19.5" height="2" fill="#fabb4a"/><rect x="356.0" y="259" width="19.5" height="2" fill="#eb9a3a"/><rect x="356.0" y="262" width="19.5" height="4" fill="#fabb4a"/><rect x="356.0" y="266" width="19.5" height="3" fill="#eb9a3a"/><rect x="356.0" y="269" width="19.5" height="4" fill="#fabb4a"/><rect x="356.0" y="273" width="19.5" height="5" fill="#fdd58c"/><rect x="356.0" y="278" width="19.5" height="2" fill="#fabb4a"/><rect x="356.0" y="280" width="19.5" height="4" fill="#fabb4a"/><rect x="356.0" y="284" width="19.5" height="3" fill="#fdd58c"/><rect x="356.0" y="289" width="19.5" height="1" fill="#eb9a3a"/><rect x="356.0" y="290" width="19.5" height="2" fill="#fabb4a"/><rect x="356.0" y="292" width="19.5" height="1" fill="#eb9a3a"/><rect x="356.0" y="293" width="19.5" height="3" fill="#fabb4a"/><rect x="356.0" y="296" width="19.5" height="2" fill="#fdd58c"/><rect x="356.0" y="298" width="19.5" height="3" fill="#df7826"/><rect x="356.0" y="301" width="19.5" height="2" fill="#eb9a3a"/><rect x="356.0" y="303" width="19.5" height="1" fill="#d05c12"/><rect x="356.0" y="304" width="19.5" height="3" fill="#eb9a3a"/><rect x="356.0" y="307" width="19.5" height="1" fill="#4a9ccf"/><rect x="356.0" y="309" width="19.5" height="1" fill="#eb9a3a"/><rect x="356.0" y="310" width="19.5" height="2" fill="#fabb4a"/><rect x="356.0" y="312" width="19.5" height="4" fill="#df7826"/><rect x="356.0" y="321" width="19.5" height="1" fill="#d05c12"/><rect x="356.0" y="324" width="19.5" height="1" fill="#df7826"/><rect x="356.0" y="339" width="19.5" height="1" fill="#fabb4a"/><rect x="356.0" y="343" width="19.5" height="1" fill="#df7826"/><rect x="356.0" y="354" width="19.5" height="2" fill="#df7826"/><rect x="356.0" y="356" width="19.5" height="2" fill="#d05c12"/><rect x="356.0" y="368" width="19.5" height="2" fill="#d05c12"/><rect x="356.0" y="382" width="19.5" height="1" fill="#df7826"/><rect x="356.0" y="385" width="19.5" height="1" fill="#df7826"/><rect x="356.0" y="387" width="19.5" height="1" fill="#d05c12"/><rect x="356.0" y="397" width="19.5" height="2" fill="#fabb4a"/><rect x="356.0" y="399" width="19.5" height="1" fill="#eb9a3a"/><rect x="356.0" y="408" width="19.5" height="1" fill="#df7826"/><rect x="356.0" y="410" width="19.5" height="3" fill="#fdd58c"/><rect x="356.0" y="413" width="19.5" height="3" fill="#fabb4a"/><rect x="356.0" y="418" width="19.5" height="2" fill="#d05c12"/><rect x="356.0" y="420" width="19.5" height="2" fill="#df7826"/><rect x="356.0" y="423" width="19.5" height="3" fill="#eb9a3a"/><rect x="356.0" y="426" width="19.5" height="3" fill="#df7826"/><rect x="375.5" y="96" width="19.5" height="1" fill="#df7826"/><rect x="375.5" y="109" width="19.5" height="1" fill="#eb9a3a"/><rect x="375.5" y="170" width="19.5" height="1" fill="#df7826"/><rect x="375.5" y="180" width="19.5" height="2" fill="#d05c12"/><rect x="375.5" y="185" width="19.5" height="1" fill="#df7826"/><rect x="375.5" y="190" width="19.5" height="1" fill="#eed8b0"/><rect x="375.5" y="198" width="19.5" height="3" fill="#df7826"/><rect x="375.5" y="205" width="19.5" height="2" fill="#eb9a3a"/><rect x="375.5" y="207" width="19.5" height="4" fill="#df7826"/><rect x="375.5" y="211" width="19.5" height="2" fill="#eb9a3a"/><rect x="375.5" y="213" width="19.5" height="2" fill="#d05c12"/><rect x="375.5" y="218" width="19.5" height="3" fill="#d05c12"/><rect x="375.5" y="222" width="19.5" height="5" fill="#df7826"/><rect x="375.5" y="227" width="19.5" height="2" fill="#fabb4a"/><rect x="375.5" y="230" width="19.5" height="1" fill="#df7826"/><rect x="375.5" y="233" width="19.5" height="5" fill="#eb9a3a"/><rect x="375.5" y="238" width="19.5" height="3" fill="#fabb4a"/><rect x="375.5" y="241" width="19.5" height="3" fill="#df7826"/><rect x="375.5" y="247" width="19.5" height="4" fill="#df7826"/><rect x="375.5" y="251" width="19.5" height="1" fill="#000a8a"/><rect x="375.5" y="252" width="19.5" height="7" fill="#fabb4a"/><rect x="375.5" y="261" width="19.5" height="3" fill="#df7826"/><rect x="375.5" y="264" width="19.5" height="3" fill="#fabb4a"/><rect x="375.5" y="267" width="19.5" height="4" fill="#fdd58c"/><rect x="375.5" y="271" width="19.5" height="1" fill="#df7826"/><rect x="375.5" y="276" width="19.5" height="1" fill="#df7826"/><rect x="375.5" y="280" width="19.5" height="1" fill="#df7826"/><rect x="375.5" y="282" width="19.5" height="3" fill="#fabb4a"/><rect x="375.5" y="286" width="19.5" height="2" fill="#df7826"/><rect x="375.5" y="290" width="19.5" height="3" fill="#df7826"/><rect x="375.5" y="293" width="19.5" height="3" fill="#d05c12"/><rect x="375.5" y="296" width="19.5" height="3" fill="#df7826"/><rect x="375.5" y="299" width="19.5" height="2" fill="#eb9a3a"/><rect x="375.5" y="302" width="19.5" height="2" fill="#fabb4a"/><rect x="375.5" y="309" width="19.5" height="1" fill="#df7826"/><rect x="375.5" y="311" width="19.5" height="1" fill="#fabb4a"/><rect x="375.5" y="312" width="19.5" height="1" fill="#eb9a3a"/><rect x="375.5" y="329" width="19.5" height="1" fill="#d05c12"/><rect x="375.5" y="341" width="19.5" height="2" fill="#d05c12"/><rect x="375.5" y="352" width="19.5" height="3" fill="#df7826"/><rect x="375.5" y="394" width="19.5" height="1" fill="#eb9a3a"/><rect x="375.5" y="402" width="19.5" height="1" fill="#df7826"/><rect x="375.5" y="407" width="19.5" height="1" fill="#fdd58c"/><rect x="375.5" y="409" width="19.5" height="2" fill="#df7826"/><rect x="375.5" y="411" width="19.5" height="2" fill="#eb9a3a"/><rect x="375.5" y="419" width="19.5" height="2" fill="#df7826"/><rect x="375.5" y="421" width="19.5" height="2" fill="#fabb4a"/>
</g>
<g fill="#b4b4b4" shape-rendering="crispEdges">
<rect x="49" y="404" width="1" height="1"/><rect x="53" y="404" width="1" height="1"/><rect x="58" y="404" width="1" height="1"/><rect x="62" y="404" width="1" height="1"/><rect x="67" y="404" width="1" height="1"/><rect x="71" y="404" width="1" height="1"/><rect x="75" y="404" width="1" height="1"/><rect x="80" y="404" width="1" height="1"/><rect x="84" y="404" width="1" height="1"/><rect x="89" y="404" width="1" height="1"/><rect x="93" y="404" width="1" height="1"/><rect x="97" y="404" width="1" height="1"/><rect x="102" y="404" width="1" height="1"/><rect x="106" y="404" width="1" height="1"/><rect x="111" y="404" width="1" height="1"/><rect x="115" y="404" width="1" height="1"/><rect x="119" y="404" width="1" height="1"/><rect x="124" y="404" width="1" height="1"/><rect x="128" y="404" width="1" height="1"/><rect x="133" y="404" width="1" height="1"/><rect x="137" y="404" width="1" height="1"/><rect x="141" y="404" width="1" height="1"/><rect x="146" y="404" width="1" height="1"/><rect x="150" y="404" width="1" height="1"/><rect x="155" y="404" width="1" height="1"/><rect x="159" y="404" width="1" height="1"/><rect x="163" y="404" width="1" height="1"/><rect x="168" y="404" width="1" height="1"/><rect x="172" y="404" width="1" height="1"/><rect x="177" y="404" width="1" height="1"/><rect x="181" y="404" width="1" height="1"/><rect x="185" y="404" width="1" height="1"/><rect x="190" y="404" width="1" height="1"/><rect x="194" y="404" width="1" height="1"/><rect x="199" y="404" width="1" height="1"/><rect x="203" y="404" width="1" height="1"/><rect x="207" y="404" width="1" height="1"/><rect x="212" y="404" width="1" height="1"/><rect x="216" y="404" width="1" height="1"/><rect x="221" y="404" width="1" height="1"/><rect x="225" y="404" width="1" height="1"/><rect x="229" y="404" width="1" height="1"/><rect x="234" y="404" width="1" height="1"/><rect x="238" y="404" width="1" height="1"/><rect x="243" y="404" width="1" height="1"/><rect x="247" y="404" width="1" height="1"/><rect x="251" y="404" width="1" height="1"/><rect x="256" y="404" width="1" height="1"/><rect x="260" y="404" width="1" height="1"/><rect x="265" y="404" width="1" height="1"/><rect x="269" y="404" width="1" height="1"/><rect x="273" y="404" width="1" height="1"/><rect x="278" y="404" width="1" height="1"/><rect x="282" y="404" width="1" height="1"/><rect x="287" y="404" width="1" height="1"/><rect x="291" y="404" width="1" height="1"/><rect x="295" y="404" width="1" height="1"/><rect x="300" y="404" width="1" height="1"/><rect x="304" y="404" width="1" height="1"/><rect x="309" y="404" width="1" height="1"/><rect x="313" y="404" width="1" height="1"/><rect x="317" y="404" width="1" height="1"/><rect x="322" y="404" width="1" height="1"/><rect x="326" y="404" width="1" height="1"/><rect x="331" y="404" width="1" height="1"/><rect x="335" y="404" width="1" height="1"/><rect x="339" y="404" width="1" height="1"/><rect x="344" y="404" width="1" height="1"/><rect x="348" y="404" width="1" height="1"/><rect x="353" y="404" width="1" height="1"/><rect x="357" y="404" width="1" height="1"/><rect x="361" y="404" width="1" height="1"/><rect x="366" y="404" width="1" height="1"/><rect x="370" y="404" width="1" height="1"/><rect x="375" y="404" width="1" height="1"/><rect x="379" y="404" width="1" height="1"/><rect x="383" y="404" width="1" height="1"/><rect x="388" y="404" width="1" height="1"/><rect x="392" y="404" width="1" height="1"/><rect x="49" y="377" width="1" height="1"/><rect x="53" y="377" width="1" height="1"/><rect x="58" y="377" width="1" height="1"/><rect x="62" y="377" width="1" height="1"/><rect x="67" y="377" width="1" height="1"/><rect x="71" y="377" width="1" height="1"/><rect x="75" y="377" width="1" height="1"/><rect x="80" y="377" width="1" height="1"/><rect x="84" y="377" width="1" height="1"/><rect x="89" y="377" width="1" height="1"/><rect x="93" y="377" width="1" height="1"/><rect x="97" y="377" width="1" height="1"/><rect x="102" y="377" width="1" height="1"/><rect x="106" y="377" width="1" height="1"/><rect x="111" y="377" width="1" height="1"/><rect x="115" y="377" width="1" height="1"/><rect x="119" y="377" width="1" height="1"/><rect x="124" y="377" width="1" height="1"/><rect x="128" y="377" width="1" height="1"/><rect x="133" y="377" width="1" height="1"/><rect x="137" y="377" width="1" height="1"/><rect x="141" y="377" width="1" height="1"/><rect x="146" y="377" width="1" height="1"/><rect x="150" y="377" width="1" height="1"/><rect x="155" y="377" width="1" height="1"/><rect x="159" y="377" width="1" height="1"/><rect x="163" y="377" width="1" height="1"/><rect x="168" y="377" width="1" height="1"/><rect x="172" y="377" width="1" height="1"/><rect x="177" y="377" width="1" height="1"/><rect x="181" y="377" width="1" height="1"/><rect x="185" y="377" width="1" height="1"/><rect x="190" y="377" width="1" height="1"/><rect x="194" y="377" width="1" height="1"/><rect x="199" y="377" width="1" height="1"/><rect x="203" y="377" width="1" height="1"/><rect x="207" y="377" width="1" height="1"/><rect x="212" y="377" width="1" height="1"/><rect x="216" y="377" width="1" height="1"/><rect x="221" y="377" width="1" height="1"/><rect x="225" y="377" width="1" height="1"/><rect x="229" y="377" width="1" height="1"/><rect x="234" y="377" width="1" height="1"/><rect x="238" y="377" width="1" height="1"/><rect x="243" y="377" width="1" height="1"/><rect x="247" y="377" width="1" height="1"/><rect x="251" y="377" width="1" height="1"/><rect x="256" y="377" width="1" height="1"/><rect x="260" y="377" width="1" height="1"/><rect x="265" y="377" width="1" height="1"/><rect x="269" y="377" width="1" height="1"/><rect x="273" y="377" width="1" height="1"/><rect x="278" y="377" width="1" height="1"/><rect x="282" y="377" width="1" height="1"/><rect x="287" y="377" width="1" height="1"/><rect x="291" y="377" width="1" height="1"/><rect x="295" y="377" width="1" height="1"/><rect x="300" y="377" width="1" height="1"/><rect x="304" y="377" width="1" height="1"/><rect x="309" y="377" width="1" height="1"/><rect x="313" y="377" width="1" height="1"/><rect x="317" y="377" width="1" height="1"/><rect x="322" y="377" width="1" height="1"/><rect x="326" y="377" width="1" height="1"/><rect x="331" y="377" width="1" height="1"/><rect x="335" y="377" width="1" height="1"/><rect x="339" y="377" width="1" height="1"/><rect x="344" y="377" width="1" height="1"/><rect x="348" y="377" width="1" height="1"/><rect x="353" y="377" width="1" height="1"/><rect x="357" y="377" width="1" height="1"/><rect x="361" y="377" width="1" height="1"/><rect x="366" y="377" width="1" height="1"/><rect x="370" y="377" width="1" height="1"/><rect x="375" y="377" width="1" height="1"/><rect x="379" y="377" width="1" height="1"/><rect x="383" y="377" width="1" height="1"/><rect x="388" y="377" width="1" height="1"/><rect x="392" y="377" width="1" height="1"/><rect x="49" y="347" width="1" height="1"/><rect x="53" y="347" width="1" height="1"/><rect x="58" y="347" width="1" height="1"/><rect x="62" y="347" width="1" height="1"/><rect x="67" y="347" width="1" height="1"/><rect x="71" y="347" width="1" height="1"/><rect x="75" y="347" width="1" height="1"/><rect x="80" y="347" width="1" height="1"/><rect x="84" y="347" width="1" height="1"/><rect x="89" y="347" width="1" height="1"/><rect x="93" y="347" width="1" height="1"/><rect x="97" y="347" width="1" height="1"/><rect x="102" y="347" width="1" height="1"/><rect x="106" y="347" width="1" height="1"/><rect x="111" y="347" width="1" height="1"/><rect x="115" y="347" width="1" height="1"/><rect x="119" y="347" width="1" height="1"/><rect x="124" y="347" width="1" height="1"/><rect x="128" y="347" width="1" height="1"/><rect x="133" y="347" width="1" height="1"/><rect x="137" y="347" width="1" height="1"/><rect x="141" y="347" width="1" height="1"/><rect x="146" y="347" width="1" height="1"/><rect x="150" y="347" width="1" height="1"/><rect x="155" y="347" width="1" height="1"/><rect x="159" y="347" width="1" height="1"/><rect x="163" y="347" width="1" height="1"/><rect x="168" y="347" width="1" height="1"/><rect x="172" y="347" width="1" height="1"/><rect x="177" y="347" width="1" height="1"/><rect x="181" y="347" width="1" height="1"/><rect x="185" y="347" width="1" height="1"/><rect x="190" y="347" width="1" height="1"/><rect x="194" y="347" width="1" height="1"/><rect x="199" y="347" width="1" height="1"/><rect x="203" y="347" width="1" height="1"/><rect x="207" y="347" width="1" height="1"/><rect x="212" y="347" width="1" height="1"/><rect x="216" y="347" width="1" height="1"/><rect x="221" y="347" width="1" height="1"/><rect x="225" y="347" width="1" height="1"/><rect x="229" y="347" width="1" height="1"/><rect x="234" y="347" width="1" height="1"/><rect x="238" y="347" width="1" height="1"/><rect x="243" y="347" width="1" height="1"/><rect x="247" y="347" width="1" height="1"/><rect x="251" y="347" width="1" height="1"/><rect x="256" y="347" width="1" height="1"/><rect x="260" y="347" width="1" height="1"/><rect x="265" y="347" width="1" height="1"/><rect x="269" y="347" width="1" height="1"/><rect x="273" y="347" width="1" height="1"/><rect x="278" y="347" width="1" height="1"/><rect x="282" y="347" width="1" height="1"/><rect x="287" y="347" width="1" height="1"/><rect x="291" y="347" width="1" height="1"/><rect x="295" y="347" width="1" height="1"/><rect x="300" y="347" width="1" height="1"/><rect x="304" y="347" width="1" height="1"/><rect x="309" y="347" width="1" height="1"/><rect x="313" y="347" width="1" height="1"/><rect x="317" y="347" width="1" height="1"/><rect x="322" y="347" width="1" height="1"/><rect x="326" y="347" width="1" height="1"/><rect x="331" y="347" width="1" height="1"/><rect x="335" y="347" width="1" height="1"/><rect x="339" y="347" width="1" height="1"/><rect x="344" y="347" width="1" height="1"/><rect x="348" y="347" width="1" height="1"/><rect x="353" y="347" width="1" height="1"/><rect x="357" y="347" width="1" height="1"/><rect x="361" y="347" width="1" height="1"/><rect x="366" y="347" width="1" height="1"/><rect x="370" y="347" width="1" height="1"/><rect x="375" y="347" width="1" height="1"/><rect x="379" y="347" width="1" height="1"/><rect x="383" y="347" width="1" height="1"/><rect x="388" y="347" width="1" height="1"/><rect x="392" y="347" width="1" height="1"/><rect x="49" y="318" width="1" height="1"/><rect x="53" y="318" width="1" height="1"/><rect x="58" y="318" width="1" height="1"/><rect x="62" y="318" width="1" height="1"/><rect x="67" y="318" width="1" height="1"/><rect x="71" y="318" width="1" height="1"/><rect x="75" y="318" width="1" height="1"/><rect x="80" y="318" width="1" height="1"/><rect x="84" y="318" width="1" height="1"/><rect x="89" y="318" width="1" height="1"/><rect x="93" y="318" width="1" height="1"/><rect x="97" y="318" width="1" height="1"/><rect x="102" y="318" width="1" height="1"/><rect x="106" y="318" width="1" height="1"/><rect x="111" y="318" width="1" height="1"/><rect x="115" y="318" width="1" height="1"/><rect x="119" y="318" width="1" height="1"/><rect x="124" y="318" width="1" height="1"/><rect x="128" y="318" width="1" height="1"/><rect x="133" y="318" width="1" height="1"/><rect x="137" y="318" width="1" height="1"/><rect x="141" y="318" width="1" height="1"/><rect x="146" y="318" width="1" height="1"/><rect x="150" y="318" width="1" height="1"/><rect x="155" y="318" width="1" height="1"/><rect x="159" y="318" width="1" height="1"/><rect x="163" y="318" width="1" height="1"/><rect x="168" y="318" width="1" height="1"/><rect x="172" y="318" width="1" height="1"/><rect x="177" y="318" width="1" height="1"/><rect x="181" y="318" width="1" height="1"/><rect x="185" y="318" width="1" height="1"/><rect x="190" y="318" width="1" height="1"/><rect x="194" y="318" width="1" height="1"/><rect x="199" y="318" width="1" height="1"/><rect x="203" y="318" width="1" height="1"/><rect x="207" y="318" width="1" height="1"/><rect x="212" y="318" width="1" height="1"/><rect x="216" y="318" width="1" height="1"/><rect x="221" y="318" width="1" height="1"/><rect x="225" y="318" width="1" height="1"/><rect x="229" y="318" width="1" height="1"/><rect x="234" y="318" width="1" height="1"/><rect x="238" y="318" width="1" height="1"/><rect x="243" y="318" width="1" height="1"/><rect x="247" y="318" width="1" height="1"/><rect x="251" y="318" width="1" height="1"/><rect x="256" y="318" width="1" height="1"/><rect x="260" y="318" width="1" height="1"/><rect x="265" y="318" width="1" height="1"/><rect x="269" y="318" width="1" height="1"/><rect x="273" y="318" width="1" height="1"/><rect x="278" y="318" width="1" height="1"/><rect x="282" y="318" width="1" height="1"/><rect x="287" y="318" width="1" height="1"/><rect x="291" y="318" width="1" height="1"/><rect x="295" y="318" width="1" height="1"/><rect x="300" y="318" width="1" height="1"/><rect x="304" y="318" width="1" height="1"/><rect x="309" y="318" width="1" height="1"/><rect x="313" y="318" width="1" height="1"/><rect x="317" y="318" width="1" height="1"/><rect x="322" y="318" width="1" height="1"/><rect x="326" y="318" width="1" height="1"/><rect x="331" y="318" width="1" height="1"/><rect x="335" y="318" width="1" height="1"/><rect x="339" y="318" width="1" height="1"/><rect x="344" y="318" width="1" height="1"/><rect x="348" y="318" width="1" height="1"/><rect x="353" y="318" width="1" height="1"/><rect x="357" y="318" width="1" height="1"/><rect x="361" y="318" width="1" height="1"/><rect x="366" y="318" width="1" height="1"/><rect x="370" y="318" width="1" height="1"/><rect x="375" y="318" width="1" height="1"/><rect x="379" y="318" width="1" height="1"/><rect x="383" y="318" width="1" height="1"/><rect x="388" y="318" width="1" height="1"/><rect x="392" y="318" width="1" height="1"/><rect x="49" y="288" width="1" height="1"/><rect x="53" y="288" width="1" height="1"/><rect x="58" y="288" width="1" height="1"/><rect x="62" y="288" width="1" height="1"/><rect x="67" y="288" width="1" height="1"/><rect x="71" y="288" width="1" height="1"/><rect x="75" y="288" width="1" height="1"/><rect x="80" y="288" width="1" height="1"/><rect x="84" y="288" width="1" height="1"/><rect x="89" y="288" width="1" height="1"/><rect x="93" y="288" width="1" height="1"/><rect x="97" y="288" width="1" height="1"/><rect x="102" y="288" width="1" height="1"/><rect x="106" y="288" width="1" height="1"/><rect x="111" y="288" width="1" height="1"/><rect x="115" y="288" width="1" height="1"/><rect x="119" y="288" width="1" height="1"/><rect x="124" y="288" width="1" height="1"/><rect x="128" y="288" width="1" height="1"/><rect x="133" y="288" width="1" height="1"/><rect x="137" y="288" width="1" height="1"/><rect x="141" y="288" width="1" height="1"/><rect x="146" y="288" width="1" height="1"/><rect x="150" y="288" width="1" height="1"/><rect x="155" y="288" width="1" height="1"/><rect x="159" y="288" width="1" height="1"/><rect x="163" y="288" width="1" height="1"/><rect x="168" y="288" width="1" height="1"/><rect x="172" y="288" width="1" height="1"/><rect x="177" y="288" width="1" height="1"/><rect x="181" y="288" width="1" height="1"/><rect x="185" y="288" width="1" height="1"/><rect x="190" y="288" width="1" height="1"/><rect x="194" y="288" width="1" height="1"/><rect x="199" y="288" width="1" height="1"/><rect x="203" y="288" width="1" height="1"/><rect x="207" y="288" width="1" height="1"/><rect x="212" y="288" width="1" height="1"/><rect x="216" y="288" width="1" height="1"/><rect x="221" y="288" width="1" height="1"/><rect x="225" y="288" width="1" height="1"/><rect x="229" y="288" width="1" height="1"/><rect x="234" y="288" width="1" height="1"/><rect x="238" y="288" width="1" height="1"/><rect x="243" y="288" width="1" height="1"/><rect x="247" y="288" width="1" height="1"/><rect x="251" y="288" width="1" height="1"/><rect x="256" y="288" width="1" height="1"/><rect x="260" y="288" width="1" height="1"/><rect x="265" y="288" width="1" height="1"/><rect x="269" y="288" width="1" height="1"/><rect x="273" y="288" width="1" height="1"/><rect x="278" y="288" width="1" height="1"/><rect x="282" y="288" width="1" height="1"/><rect x="287" y="288" width="1" height="1"/><rect x="291" y="288" width="1" height="1"/><rect x="295" y="288" width="1" height="1"/><rect x="300" y="288" width="1" height="1"/><rect x="304" y="288" width="1" height="1"/><rect x="309" y="288" width="1" height="1"/><rect x="313" y="288" width="1" height="1"/><rect x="317" y="288" width="1" height="1"/><rect x="322" y="288" width="1" height="1"/><rect x="326" y="288" width="1" height="1"/><rect x="331" y="288" width="1" height="1"/><rect x="335" y="288" width="1" height="1"/><rect x="339" y="288" width="1" height="1"/><rect x="344" y="288" width="1" height="1"/><rect x="348" y="288" width="1" height="1"/><rect x="353" y="288" width="1" height="1"/><rect x="357" y="288" width="1" height="1"/><rect x="361" y="288" width="1" height="1"/><rect x="366" y="288" width="1" height="1"/><rect x="370" y="288" width="1" height="1"/><rect x="375" y="288" width="1" height="1"/><rect x="379" y="288" width="1" height="1"/><rect x="383" y="288" width="1" height="1"/><rect x="388" y="288" width="1" height="1"/><rect x="392" y="288" width="1" height="1"/><rect x="49" y="259" width="1" height="1"/><rect x="53" y="259" width="1" height="1"/><rect x="58" y="259" width="1" height="1"/><rect x="62" y="259" width="1" height="1"/><rect x="67" y="259" width="1" height="1"/><rect x="71" y="259" width="1" height="1"/><rect x="75" y="259" width="1" height="1"/><rect x="80" y="259" width="1" height="1"/><rect x="84" y="259" width="1" height="1"/><rect x="89" y="259" width="1" height="1"/><rect x="93" y="259" width="1" height="1"/><rect x="97" y="259" width="1" height="1"/><rect x="102" y="259" width="1" height="1"/><rect x="106" y="259" width="1" height="1"/><rect x="111" y="259" width="1" height="1"/><rect x="115" y="259" width="1" height="1"/><rect x="119" y="259" width="1" height="1"/><rect x="124" y="259" width="1" height="1"/><rect x="128" y="259" width="1" height="1"/><rect x="133" y="259" width="1" height="1"/><rect x="137" y="259" width="1" height="1"/><rect x="141" y="259" width="1" height="1"/><rect x="146" y="259" width="1" height="1"/><rect x="150" y="259" width="1" height="1"/><rect x="155" y="259" width="1" height="1"/><rect x="159" y="259" width="1" height="1"/><rect x="163" y="259" width="1" height="1"/><rect x="168" y="259" width="1" height="1"/><rect x="172" y="259" width="1" height="1"/><rect x="177" y="259" width="1" height="1"/><rect x="181" y="259" width="1" height="1"/><rect x="185" y="259" width="1" height="1"/><rect x="190" y="259" width="1" height="1"/><rect x="194" y="259" width="1" height="1"/><rect x="199" y="259" width="1" height="1"/><rect x="203" y="259" width="1" height="1"/><rect x="207" y="259" width="1" height="1"/><rect x="212" y="259" width="1" height="1"/><rect x="216" y="259" width="1" height="1"/><rect x="221" y="259" width="1" height="1"/><rect x="225" y="259" width="1" height="1"/><rect x="229" y="259" width="1" height="1"/><rect x="234" y="259" width="1" height="1"/><rect x="238" y="259" width="1" height="1"/><rect x="243" y="259" width="1" height="1"/><rect x="247" y="259" width="1" height="1"/><rect x="251" y="259" width="1" height="1"/><rect x="256" y="259" width="1" height="1"/><rect x="260" y="259" width="1" height="1"/><rect x="265" y="259" width="1" height="1"/><rect x="269" y="259" width="1" height="1"/><rect x="273" y="259" width="1" height="1"/><rect x="278" y="259" width="1" height="1"/><rect x="282" y="259" width="1" height="1"/><rect x="287" y="259" width="1" height="1"/><rect x="291" y="259" width="1" height="1"/><rect x="295" y="259" width="1" height="1"/><rect x="300" y="259" width="1" height="1"/><rect x="304" y="259" width="1" height="1"/><rect x="309" y="259" width="1" height="1"/><rect x="313" y="259" width="1" height="1"/><rect x="317" y="259" width="1" height="1"/><rect x="322" y="259" width="1" height="1"/><rect x="326" y="259" width="1" height="1"/><rect x="331" y="259" width="1" height="1"/><rect x="335" y="259" width="1" height="1"/><rect x="339" y="259" width="1" height="1"/><rect x="344" y="259" width="1" height="1"/><rect x="348" y="259" width="1" height="1"/><rect x="353" y="259" width="1" height="1"/><rect x="357" y="259" width="1" height="1"/><rect x="361" y="259" width="1" height="1"/><rect x="366" y="259" width="1" height="1"/><rect x="370" y="259" width="1" height="1"/><rect x="375" y="259" width="1" height="1"/><rect x="379" y="259" width="1" height="1"/><rect x="383" y="259" width="1" height="1"/><rect x="388" y="259" width="1" height="1"/><rect x="392" y="259" width="1" height="1"/><rect x="49" y="229" width="1" height="1"/><rect x="53" y="229" width="1" height="1"/><rect x="58" y="229" width="1" height="1"/><rect x="62" y="229" width="1" height="1"/><rect x="67" y="229" width="1" height="1"/><rect x="71" y="229" width="1" height="1"/><rect x="75" y="229" width="1" height="1"/><rect x="80" y="229" width="1" height="1"/><rect x="84" y="229" width="1" height="1"/><rect x="89" y="229" width="1" height="1"/><rect x="93" y="229" width="1" height="1"/><rect x="97" y="229" width="1" height="1"/><rect x="102" y="229" width="1" height="1"/><rect x="106" y="229" width="1" height="1"/><rect x="111" y="229" width="1" height="1"/><rect x="115" y="229" width="1" height="1"/><rect x="119" y="229" width="1" height="1"/><rect x="124" y="229" width="1" height="1"/><rect x="128" y="229" width="1" height="1"/><rect x="133" y="229" width="1" height="1"/><rect x="137" y="229" width="1" height="1"/><rect x="141" y="229" width="1" height="1"/><rect x="146" y="229" width="1" height="1"/><rect x="150" y="229" width="1" height="1"/><rect x="155" y="229" width="1" height="1"/><rect x="159" y="229" width="1" height="1"/><rect x="163" y="229" width="1" height="1"/><rect x="168" y="229" width="1" height="1"/><rect x="172" y="229" width="1" height="1"/><rect x="177" y="229" width="1" height="1"/><rect x="181" y="229" width="1" height="1"/><rect x="185" y="229" width="1" height="1"/><rect x="190" y="229" width="1" height="1"/><rect x="194" y="229" width="1" height="1"/><rect x="199" y="229" width="1" height="1"/><rect x="203" y="229" width="1" height="1"/><rect x="207" y="229" width="1" height="1"/><rect x="212" y="229" width="1" height="1"/><rect x="216" y="229" width="1" height="1"/><rect x="221" y="229" width="1" height="1"/><rect x="225" y="229" width="1" height="1"/><rect x="229" y="229" width="1" height="1"/><rect x="234" y="229" width="1" height="1"/><rect x="238" y="229" width="1" height="1"/><rect x="243" y="229" width="1" height="1"/><rect x="247" y="229" width="1" height="1"/><rect x="251" y="229" width="1" height="1"/><rect x="256" y="229" width="1" height="1"/><rect x="260" y="229" width="1" height="1"/><rect x="265" y="229" width="1" height="1"/><rect x="269" y="229" width="1" height="1"/><rect x="273" y="229" width="1" height="1"/><rect x="278" y="229" width="1" height="1"/><rect x="282" y="229" width="1" height="1"/><rect x="287" y="229" width="1" height="1"/><rect x="291" y="229" width="1" height="1"/><rect x="295" y="229" width="1" height="1"/><rect x="300" y="229" width="1" height="1"/><rect x="304" y="229" width="1" height="1"/><rect x="309" y="229" width="1" height="1"/><rect x="313" y="229" width="1" height="1"/><rect x="317" y="229" width="1" height="1"/><rect x="322" y="229" width="1" height="1"/><rect x="326" y="229" width="1" height="1"/><rect x="331" y="229" width="1" height="1"/><rect x="335" y="229" width="1" height="1"/><rect x="339" y="229" width="1" height="1"/><rect x="344" y="229" width="1" height="1"/><rect x="348" y="229" width="1" height="1"/><rect x="353" y="229" width="1" height="1"/><rect x="357" y="229" width="1" height="1"/><rect x="361" y="229" width="1" height="1"/><rect x="366" y="229" width="1" height="1"/><rect x="370" y="229" width="1" height="1"/><rect x="375" y="229" width="1" height="1"/><rect x="379" y="229" width="1" height="1"/><rect x="383" y="229" width="1" height="1"/><rect x="388" y="229" width="1" height="1"/><rect x="392" y="229" width="1" height="1"/><rect x="49" y="200" width="1" height="1"/><rect x="53" y="200" width="1" height="1"/><rect x="58" y="200" width="1" height="1"/><rect x="62" y="200" width="1" height="1"/><rect x="67" y="200" width="1" height="1"/><rect x="71" y="200" width="1" height="1"/><rect x="75" y="200" width="1" height="1"/><rect x="80" y="200" width="1" height="1"/><rect x="84" y="200" width="1" height="1"/><rect x="89" y="200" width="1" height="1"/><rect x="93" y="200" width="1" height="1"/><rect x="97" y="200" width="1" height="1"/><rect x="102" y="200" width="1" height="1"/><rect x="106" y="200" width="1" height="1"/><rect x="111" y="200" width="1" height="1"/><rect x="115" y="200" width="1" height="1"/><rect x="119" y="200" width="1" height="1"/><rect x="124" y="200" width="1" height="1"/><rect x="128" y="200" width="1" height="1"/><rect x="133" y="200" width="1" height="1"/><rect x="137" y="200" width="1" height="1"/><rect x="141" y="200" width="1" height="1"/><rect x="146" y="200" width="1" height="1"/><rect x="150" y="200" width="1" height="1"/><rect x="155" y="200" width="1" height="1"/><rect x="159" y="200" width="1" height="1"/><rect x="163" y="200" width="1" height="1"/><rect x="168" y="200" width="1" height="1"/><rect x="172" y="200" width="1" height="1"/><rect x="177" y="200" width="1" height="1"/><rect x="181" y="200" width="1" height="1"/><rect x="185" y="200" width="1" height="1"/><rect x="190" y="200" width="1" height="1"/><rect x="194" y="200" width="1" height="1"/><rect x="199" y="200" width="1" height="1"/><rect x="203" y="200" width="1" height="1"/><rect x="207" y="200" width="1" height="1"/><rect x="212" y="200" width="1" height="1"/><rect x="216" y="200" width="1" height="1"/><rect x="221" y="200" width="1" height="1"/><rect x="225" y="200" width="1" height="1"/><rect x="229" y="200" width="1" height="1"/><rect x="234" y="200" width="1" height="1"/><rect x="238" y="200" width="1" height="1"/><rect x="243" y="200" width="1" height="1"/><rect x="247" y="200" width="1" height="1"/><rect x="251" y="200" width="1" height="1"/><rect x="256" y="200" width="1" height="1"/><rect x="260" y="200" width="1" height="1"/><rect x="265" y="200" width="1" height="1"/><rect x="269" y="200" width="1" height="1"/><rect x="273" y="200" width="1" height="1"/><rect x="278" y="200" width="1" height="1"/><rect x="282" y="200" width="1" height="1"/><rect x="287" y="200" width="1" height="1"/><rect x="291" y="200" width="1" height="1"/><rect x="295" y="200" width="1" height="1"/><rect x="300" y="200" width="1" height="1"/><rect x="304" y="200" width="1" height="1"/><rect x="309" y="200" width="1" height="1"/><rect x="313" y="200" width="1" height="1"/><rect x="317" y="200" width="1" height="1"/><rect x="322" y="200" width="1" height="1"/><rect x="326" y="200" width="1" height="1"/><rect x="331" y="200" width="1" height="1"/><rect x="335" y="200" width="1" height="1"/><rect x="339" y="200" width="1" height="1"/><rect x="344" y="200" width="1" height="1"/><rect x="348" y="200" width="1" height="1"/><rect x="353" y="200" width="1" height="1"/><rect x="357" y="200" width="1" height="1"/><rect x="361" y="200" width="1" height="1"/><rect x="366" y="200" width="1" height="1"/><rect x="370" y="200" width="1" height="1"/><rect x="375" y="200" width="1" height="1"/><rect x="379" y="200" width="1" height="1"/><rect x="383" y="200" width="1" height="1"/><rect x="388" y="200" width="1" height="1"/><rect x="392" y="200" width="1" height="1"/><rect x="49" y="171" width="1" height="1"/><rect x="53" y="171" width="1" height="1"/><rect x="58" y="171" width="1" height="1"/><rect x="62" y="171" width="1" height="1"/><rect x="67" y="171" width="1" height="1"/><rect x="71" y="171" width="1" height="1"/><rect x="75" y="171" width="1" height="1"/><rect x="80" y="171" width="1" height="1"/><rect x="84" y="171" width="1" height="1"/><rect x="89" y="171" width="1" height="1"/><rect x="93" y="171" width="1" height="1"/><rect x="97" y="171" width="1" height="1"/><rect x="102" y="171" width="1" height="1"/><rect x="106" y="171" width="1" height="1"/><rect x="111" y="171" width="1" height="1"/><rect x="115" y="171" width="1" height="1"/><rect x="119" y="171" width="1" height="1"/><rect x="124" y="171" width="1" height="1"/><rect x="128" y="171" width="1" height="1"/><rect x="133" y="171" width="1" height="1"/><rect x="137" y="171" width="1" height="1"/><rect x="141" y="171" width="1" height="1"/><rect x="146" y="171" width="1" height="1"/><rect x="150" y="171" width="1" height="1"/><rect x="155" y="171" width="1" height="1"/><rect x="159" y="171" width="1" height="1"/><rect x="163" y="171" width="1" height="1"/><rect x="168" y="171" width="1" height="1"/><rect x="172" y="171" width="1" height="1"/><rect x="177" y="171" width="1" height="1"/><rect x="181" y="171" width="1" height="1"/><rect x="185" y="171" width="1" height="1"/><rect x="190" y="171" width="1" height="1"/><rect x="194" y="171" width="1" height="1"/><rect x="199" y="171" width="1" height="1"/><rect x="203" y="171" width="1" height="1"/><rect x="207" y="171" width="1" height="1"/><rect x="212" y="171" width="1" height="1"/><rect x="216" y="171" width="1" height="1"/><rect x="221" y="171" width="1" height="1"/><rect x="225" y="171" width="1" height="1"/><rect x="229" y="171" width="1" height="1"/><rect x="234" y="171" width="1" height="1"/><rect x="238" y="171" width="1" height="1"/><rect x="243" y="171" width="1" height="1"/><rect x="247" y="171" width="1" height="1"/><rect x="251" y="171" width="1" height="1"/><rect x="256" y="171" width="1" height="1"/><rect x="260" y="171" width="1" height="1"/><rect x="265" y="171" width="1" height="1"/><rect x="269" y="171" width="1" height="1"/><rect x="273" y="171" width="1" height="1"/><rect x="278" y="171" width="1" height="1"/><rect x="282" y="171" width="1" height="1"/><rect x="287" y="171" width="1" height="1"/><rect x="291" y="171" width="1" height="1"/><rect x="295" y="171" width="1" height="1"/><rect x="300" y="171" width="1" height="1"/><rect x="304" y="171" width="1" height="1"/><rect x="309" y="171" width="1" height="1"/><rect x="313" y="171" width="1" height="1"/><rect x="317" y="171" width="1" height="1"/><rect x="322" y="171" width="1" height="1"/><rect x="326" y="171" width="1" height="1"/><rect x="331" y="171" width="1" height="1"/><rect x="335" y="171" width="1" height="1"/><rect x="339" y="171" width="1" height="1"/><rect x="344" y="171" width="1" height="1"/><rect x="348" y="171" width="1" height="1"/><rect x="353" y="171" width="1" height="1"/><rect x="357" y="171" width="1" height="1"/><rect x="361" y="171" width="1" height="1"/><rect x="366" y="171" width="1" height="1"/><rect x="370" y="171" width="1" height="1"/><rect x="375" y="171" width="1" height="1"/><rect x="379" y="171" width="1" height="1"/><rect x="383" y="171" width="1" height="1"/><rect x="388" y="171" width="1" height="1"/><rect x="392" y="171" width="1" height="1"/><rect x="49" y="141" width="1" height="1"/><rect x="53" y="141" width="1" height="1"/><rect x="58" y="141" width="1" height="1"/><rect x="62" y="141" width="1" height="1"/><rect x="67" y="141" width="1" height="1"/><rect x="71" y="141" width="1" height="1"/><rect x="75" y="141" width="1" height="1"/><rect x="80" y="141" width="1" height="1"/><rect x="84" y="141" width="1" height="1"/><rect x="89" y="141" width="1" height="1"/><rect x="93" y="141" width="1" height="1"/><rect x="97" y="141" width="1" height="1"/><rect x="102" y="141" width="1" height="1"/><rect x="106" y="141" width="1" height="1"/><rect x="111" y="141" width="1" height="1"/><rect x="115" y="141" width="1" height="1"/><rect x="119" y="141" width="1" height="1"/><rect x="124" y="141" width="1" height="1"/><rect x="128" y="141" width="1" height="1"/><rect x="133" y="141" width="1" height="1"/><rect x="137" y="141" width="1" height="1"/><rect x="141" y="141" width="1" height="1"/><rect x="146" y="141" width="1" height="1"/><rect x="150" y="141" width="1" height="1"/><rect x="155" y="141" width="1" height="1"/><rect x="159" y="141" width="1" height="1"/><rect x="163" y="141" width="1" height="1"/><rect x="168" y="141" width="1" height="1"/><rect x="172" y="141" width="1" height="1"/><rect x="177" y="141" width="1" height="1"/><rect x="181" y="141" width="1" height="1"/><rect x="185" y="141" width="1" height="1"/><rect x="190" y="141" width="1" height="1"/><rect x="194" y="141" width="1" height="1"/><rect x="199" y="141" width="1" height="1"/><rect x="203" y="141" width="1" height="1"/><rect x="207" y="141" width="1" height="1"/><rect x="212" y="141" width="1" height="1"/><rect x="216" y="141" width="1" height="1"/><rect x="221" y="141" width="1" height="1"/><rect x="225" y="141" width="1" height="1"/><rect x="229" y="141" width="1" height="1"/><rect x="234" y="141" width="1" height="1"/><rect x="238" y="141" width="1" height="1"/><rect x="243" y="141" width="1" height="1"/><rect x="247" y="141" width="1" height="1"/><rect x="251" y="141" width="1" height="1"/><rect x="256" y="141" width="1" height="1"/><rect x="260" y="141" width="1" height="1"/><rect x="265" y="141" width="1" height="1"/><rect x="269" y="141" width="1" height="1"/><rect x="273" y="141" width="1" height="1"/><rect x="278" y="141" width="1" height="1"/><rect x="282" y="141" width="1" height="1"/><rect x="287" y="141" width="1" height="1"/><rect x="291" y="141" width="1" height="1"/><rect x="295" y="141" width="1" height="1"/><rect x="300" y="141" width="1" height="1"/><rect x="304" y="141" width="1" height="1"/><rect x="309" y="141" width="1" height="1"/><rect x="313" y="141" width="1" height="1"/><rect x="317" y="141" width="1" height="1"/><rect x="322" y="141" width="1" height="1"/><rect x="326" y="141" width="1" height="1"/><rect x="331" y="141" width="1" height="1"/><rect x="335" y="141" width="1" height="1"/><rect x="339" y="141" width="1" height="1"/><rect x="344" y="141" width="1" height="1"/><rect x="348" y="141" width="1" height="1"/><rect x="353" y="141" width="1" height="1"/><rect x="357" y="141" width="1" height="1"/><rect x="361" y="141" width="1" height="1"/><rect x="366" y="141" width="1" height="1"/><rect x="370" y="141" width="1" height="1"/><rect x="375" y="141" width="1" height="1"/><rect x="379" y="141" width="1" height="1"/><rect x="383" y="141" width="1" height="1"/><rect x="388" y="141" width="1" height="1"/><rect x="392" y="141" width="1" height="1"/><rect x="49" y="112" width="1" height="1"/><rect x="53" y="112" width="1" height="1"/><rect x="58" y="112" width="1" height="1"/><rect x="62" y="112" width="1" height="1"/><rect x="67" y="112" width="1" height="1"/><rect x="71" y="112" width="1" height="1"/><rect x="75" y="112" width="1" height="1"/><rect x="80" y="112" width="1" height="1"/><rect x="84" y="112" width="1" height="1"/><rect x="89" y="112" width="1" height="1"/><rect x="93" y="112" width="1" height="1"/><rect x="97" y="112" width="1" height="1"/><rect x="102" y="112" width="1" height="1"/><rect x="106" y="112" width="1" height="1"/><rect x="111" y="112" width="1" height="1"/><rect x="115" y="112" width="1" height="1"/><rect x="119" y="112" width="1" height="1"/><rect x="124" y="112" width="1" height="1"/><rect x="128" y="112" width="1" height="1"/><rect x="133" y="112" width="1" height="1"/><rect x="137" y="112" width="1" height="1"/><rect x="141" y="112" width="1" height="1"/><rect x="146" y="112" width="1" height="1"/><rect x="150" y="112" width="1" height="1"/><rect x="155" y="112" width="1" height="1"/><rect x="159" y="112" width="1" height="1"/><rect x="163" y="112" width="1" height="1"/><rect x="168" y="112" width="1" height="1"/><rect x="172" y="112" width="1" height="1"/><rect x="177" y="112" width="1" height="1"/><rect x="181" y="112" width="1" height="1"/><rect x="185" y="112" width="1" height="1"/><rect x="190" y="112" width="1" height="1"/><rect x="194" y="112" width="1" height="1"/><rect x="199" y="112" width="1" height="1"/><rect x="203" y="112" width="1" height="1"/><rect x="207" y="112" width="1" height="1"/><rect x="212" y="112" width="1" height="1"/><rect x="216" y="112" width="1" height="1"/><rect x="221" y="112" width="1" height="1"/><rect x="225" y="112" width="1" height="1"/><rect x="229" y="112" width="1" height="1"/><rect x="234" y="112" width="1" height="1"/><rect x="238" y="112" width="1" height="1"/><rect x="243" y="112" width="1" height="1"/><rect x="247" y="112" width="1" height="1"/><rect x="251" y="112" width="1" height="1"/><rect x="256" y="112" width="1" height="1"/><rect x="260" y="112" width="1" height="1"/><rect x="265" y="112" width="1" height="1"/><rect x="269" y="112" width="1" height="1"/><rect x="273" y="112" width="1" height="1"/><rect x="278" y="112" width="1" height="1"/><rect x="282" y="112" width="1" height="1"/><rect x="287" y="112" width="1" height="1"/><rect x="291" y="112" width="1" height="1"/><rect x="295" y="112" width="1" height="1"/><rect x="300" y="112" width="1" height="1"/><rect x="304" y="112" width="1" height="1"/><rect x="309" y="112" width="1" height="1"/><rect x="313" y="112" width="1" height="1"/><rect x="317" y="112" width="1" height="1"/><rect x="322" y="112" width="1" height="1"/><rect x="326" y="112" width="1" height="1"/><rect x="331" y="112" width="1" height="1"/><rect x="335" y="112" width="1" height="1"/><rect x="339" y="112" width="1" height="1"/><rect x="344" y="112" width="1" height="1"/><rect x="348" y="112" width="1" height="1"/><rect x="353" y="112" width="1" height="1"/><rect x="357" y="112" width="1" height="1"/><rect x="361" y="112" width="1" height="1"/><rect x="366" y="112" width="1" height="1"/><rect x="370" y="112" width="1" height="1"/><rect x="375" y="112" width="1" height="1"/><rect x="379" y="112" width="1" height="1"/><rect x="383" y="112" width="1" height="1"/><rect x="388" y="112" width="1" height="1"/><rect x="392" y="112" width="1" height="1"/>
</g>
<rect x="44.5" y="83.5" width="351" height="351" fill="none" stroke="#000" stroke-width="1.3"/>
<g stroke="#000" stroke-width="1.2">
<line x1="38" y1="434.4" x2="44" y2="434.4"/><line x1="38" y1="404.5" x2="44" y2="404.5"/><line x1="38" y1="377.5" x2="44" y2="377.5"/><line x1="38" y1="347.5" x2="44" y2="347.5"/><line x1="38" y1="318.5" x2="44" y2="318.5"/><line x1="38" y1="288.5" x2="44" y2="288.5"/><line x1="38" y1="259.4" x2="44" y2="259.4"/><line x1="38" y1="229.9" x2="44" y2="229.9"/><line x1="38" y1="200.5" x2="44" y2="200.5"/><line x1="38" y1="171.5" x2="44" y2="171.5"/><line x1="38" y1="141.2" x2="44" y2="141.2"/><line x1="38" y1="112.3" x2="44" y2="112.3"/><line x1="53.8" y1="434" x2="53.8" y2="440"/><line x1="73.2" y1="434" x2="73.2" y2="440"/><line x1="92.8" y1="434" x2="92.8" y2="440"/><line x1="112.2" y1="434" x2="112.2" y2="440"/><line x1="131.8" y1="434" x2="131.8" y2="440"/><line x1="151.2" y1="434" x2="151.2" y2="440"/><line x1="170.8" y1="434" x2="170.8" y2="440"/><line x1="190.2" y1="434" x2="190.2" y2="440"/><line x1="209.8" y1="434" x2="209.8" y2="440"/><line x1="229.2" y1="434" x2="229.2" y2="440"/><line x1="248.8" y1="434" x2="248.8" y2="440"/><line x1="268.2" y1="434" x2="268.2" y2="440"/><line x1="287.8" y1="434" x2="287.8" y2="440"/><line x1="307.2" y1="434" x2="307.2" y2="440"/><line x1="326.8" y1="434" x2="326.8" y2="440"/><line x1="346.2" y1="434" x2="346.2" y2="440"/><line x1="365.8" y1="434" x2="365.8" y2="440"/><line x1="385.2" y1="434" x2="385.2" y2="440"/>
</g>
<g font-size="11.2" fill="#000">
<text x="13.16" y="439.0" textLength="19.44" lengthAdjust="spacingAndGlyphs">Oct</text><text x="10.89" y="409.1" textLength="21.71" lengthAdjust="spacingAndGlyphs">Nov</text><text x="11.06" y="382.1" textLength="21.54" lengthAdjust="spacingAndGlyphs">Dec</text><text x="15.07" y="352.1" textLength="17.53" lengthAdjust="spacingAndGlyphs">Jan</text><text x="12.18" y="323.1" textLength="20.42" lengthAdjust="spacingAndGlyphs">Feb</text><text x="11.55" y="293.1" textLength="21.05" lengthAdjust="spacingAndGlyphs">Mar</text><text x="13.15" y="264.0" textLength="19.45" lengthAdjust="spacingAndGlyphs">Apr</text><text x="9.71" y="234.5" textLength="22.89" lengthAdjust="spacingAndGlyphs">May</text><text x="14.86" y="205.1" textLength="17.74" lengthAdjust="spacingAndGlyphs">Jun</text><text x="18.49" y="176.1" textLength="14.11" lengthAdjust="spacingAndGlyphs">Jul</text><text x="10.88" y="145.8" textLength="21.72" lengthAdjust="spacingAndGlyphs">Aug</text><text x="11.57" y="116.9" textLength="21.03" lengthAdjust="spacingAndGlyphs">Sep</text>
</g>
<g font-size="11" fill="#000">
<text transform="translate(57.8,447.5) rotate(-90)" x="-27" textLength="27" lengthAdjust="spacingAndGlyphs">2008</text><text transform="translate(77.2,447.5) rotate(-90)" x="-27" textLength="27" lengthAdjust="spacingAndGlyphs">2009</text><text transform="translate(96.8,447.5) rotate(-90)" x="-27" textLength="27" lengthAdjust="spacingAndGlyphs">2010</text><text transform="translate(116.2,447.5) rotate(-90)" x="-27" textLength="27" lengthAdjust="spacingAndGlyphs">2011</text><text transform="translate(135.8,447.5) rotate(-90)" x="-27" textLength="27" lengthAdjust="spacingAndGlyphs">2012</text><text transform="translate(155.2,447.5) rotate(-90)" x="-27" textLength="27" lengthAdjust="spacingAndGlyphs">2013</text><text transform="translate(174.8,447.5) rotate(-90)" x="-27" textLength="27" lengthAdjust="spacingAndGlyphs">2014</text><text transform="translate(194.2,447.5) rotate(-90)" x="-27" textLength="27" lengthAdjust="spacingAndGlyphs">2015</text><text transform="translate(213.8,447.5) rotate(-90)" x="-27" textLength="27" lengthAdjust="spacingAndGlyphs">2016</text><text transform="translate(233.2,447.5) rotate(-90)" x="-27" textLength="27" lengthAdjust="spacingAndGlyphs">2017</text><text transform="translate(252.8,447.5) rotate(-90)" x="-27" textLength="27" lengthAdjust="spacingAndGlyphs">2018</text><text transform="translate(272.2,447.5) rotate(-90)" x="-27" textLength="27" lengthAdjust="spacingAndGlyphs">2019</text><text transform="translate(291.8,447.5) rotate(-90)" x="-27" textLength="27" lengthAdjust="spacingAndGlyphs">2020</text><text transform="translate(311.2,447.5) rotate(-90)" x="-27" textLength="27" lengthAdjust="spacingAndGlyphs">2021</text><text transform="translate(330.8,447.5) rotate(-90)" x="-27" textLength="27" lengthAdjust="spacingAndGlyphs">2022</text><text transform="translate(350.2,447.5) rotate(-90)" x="-27" textLength="27" lengthAdjust="spacingAndGlyphs">2023</text><text transform="translate(369.8,447.5) rotate(-90)" x="-27" textLength="27" lengthAdjust="spacingAndGlyphs">2024</text><text transform="translate(389.2,447.5) rotate(-90)" x="-27" textLength="27" lengthAdjust="spacingAndGlyphs">2025</text>
</g>
<rect x="403.5" y="83.5" width="18" height="351" fill="url(#cb)" stroke="#000" stroke-width="1.3"/>
<g stroke="#000" stroke-width="1.2"><line x1="421" y1="434.0" x2="427" y2="434.0"/><line x1="421" y1="396.3" x2="427" y2="396.3"/><line x1="421" y1="358.5" x2="427" y2="358.5"/><line x1="421" y1="320.8" x2="427" y2="320.8"/><line x1="421" y1="283.0" x2="427" y2="283.0"/><line x1="421" y1="245.3" x2="427" y2="245.3"/><line x1="421" y1="207.5" x2="427" y2="207.5"/><line x1="421" y1="169.8" x2="427" y2="169.8"/><line x1="421" y1="132.1" x2="427" y2="132.1"/><line x1="421" y1="94.3" x2="427" y2="94.3"/><line x1="421" y1="83.5" x2="427" y2="83.5"/></g>
<g font-size="11.5" fill="#000"><text x="437.5" y="438.6" textLength="6.36" lengthAdjust="spacingAndGlyphs">0</text><text x="437.5" y="400.9" textLength="22.26" lengthAdjust="spacingAndGlyphs">0.05</text><text x="437.5" y="363.1" textLength="15.90" lengthAdjust="spacingAndGlyphs">0.1</text><text x="437.5" y="325.4" textLength="22.26" lengthAdjust="spacingAndGlyphs">0.15</text><text x="437.5" y="287.6" textLength="15.90" lengthAdjust="spacingAndGlyphs">0.2</text><text x="437.5" y="249.9" textLength="22.26" lengthAdjust="spacingAndGlyphs">0.25</text><text x="437.5" y="212.1" textLength="15.90" lengthAdjust="spacingAndGlyphs">0.3</text><text x="437.5" y="174.4" textLength="22.26" lengthAdjust="spacingAndGlyphs">0.35</text><text x="437.5" y="136.7" textLength="15.90" lengthAdjust="spacingAndGlyphs">0.4</text><text x="437.5" y="98.9" textLength="22.26" lengthAdjust="spacingAndGlyphs">0.45</text><text x="437.3" y="87.2" textLength="42.3" lengthAdjust="spacingAndGlyphs">&gt; 0.465</text></g>
<text transform="translate(498,259.5) rotate(-90)" x="-31.8" textLength="63.6" lengthAdjust="spacingAndGlyphs" font-weight="bold" font-size="12.5">Scale (ft/s)</text>
<text x="5" y="489" font-size="11.3" fill="#465058" textLength="208.5" lengthAdjust="spacingAndGlyphs">www.cbr.washington.edu/sacramento/</text>
<text x="350" y="489" font-size="11.3" fill="#465058" textLength="145" lengthAdjust="spacingAndGlyphs">23 Nov 2025 15:48:33 PST</text>
</svg>
</body></html>
